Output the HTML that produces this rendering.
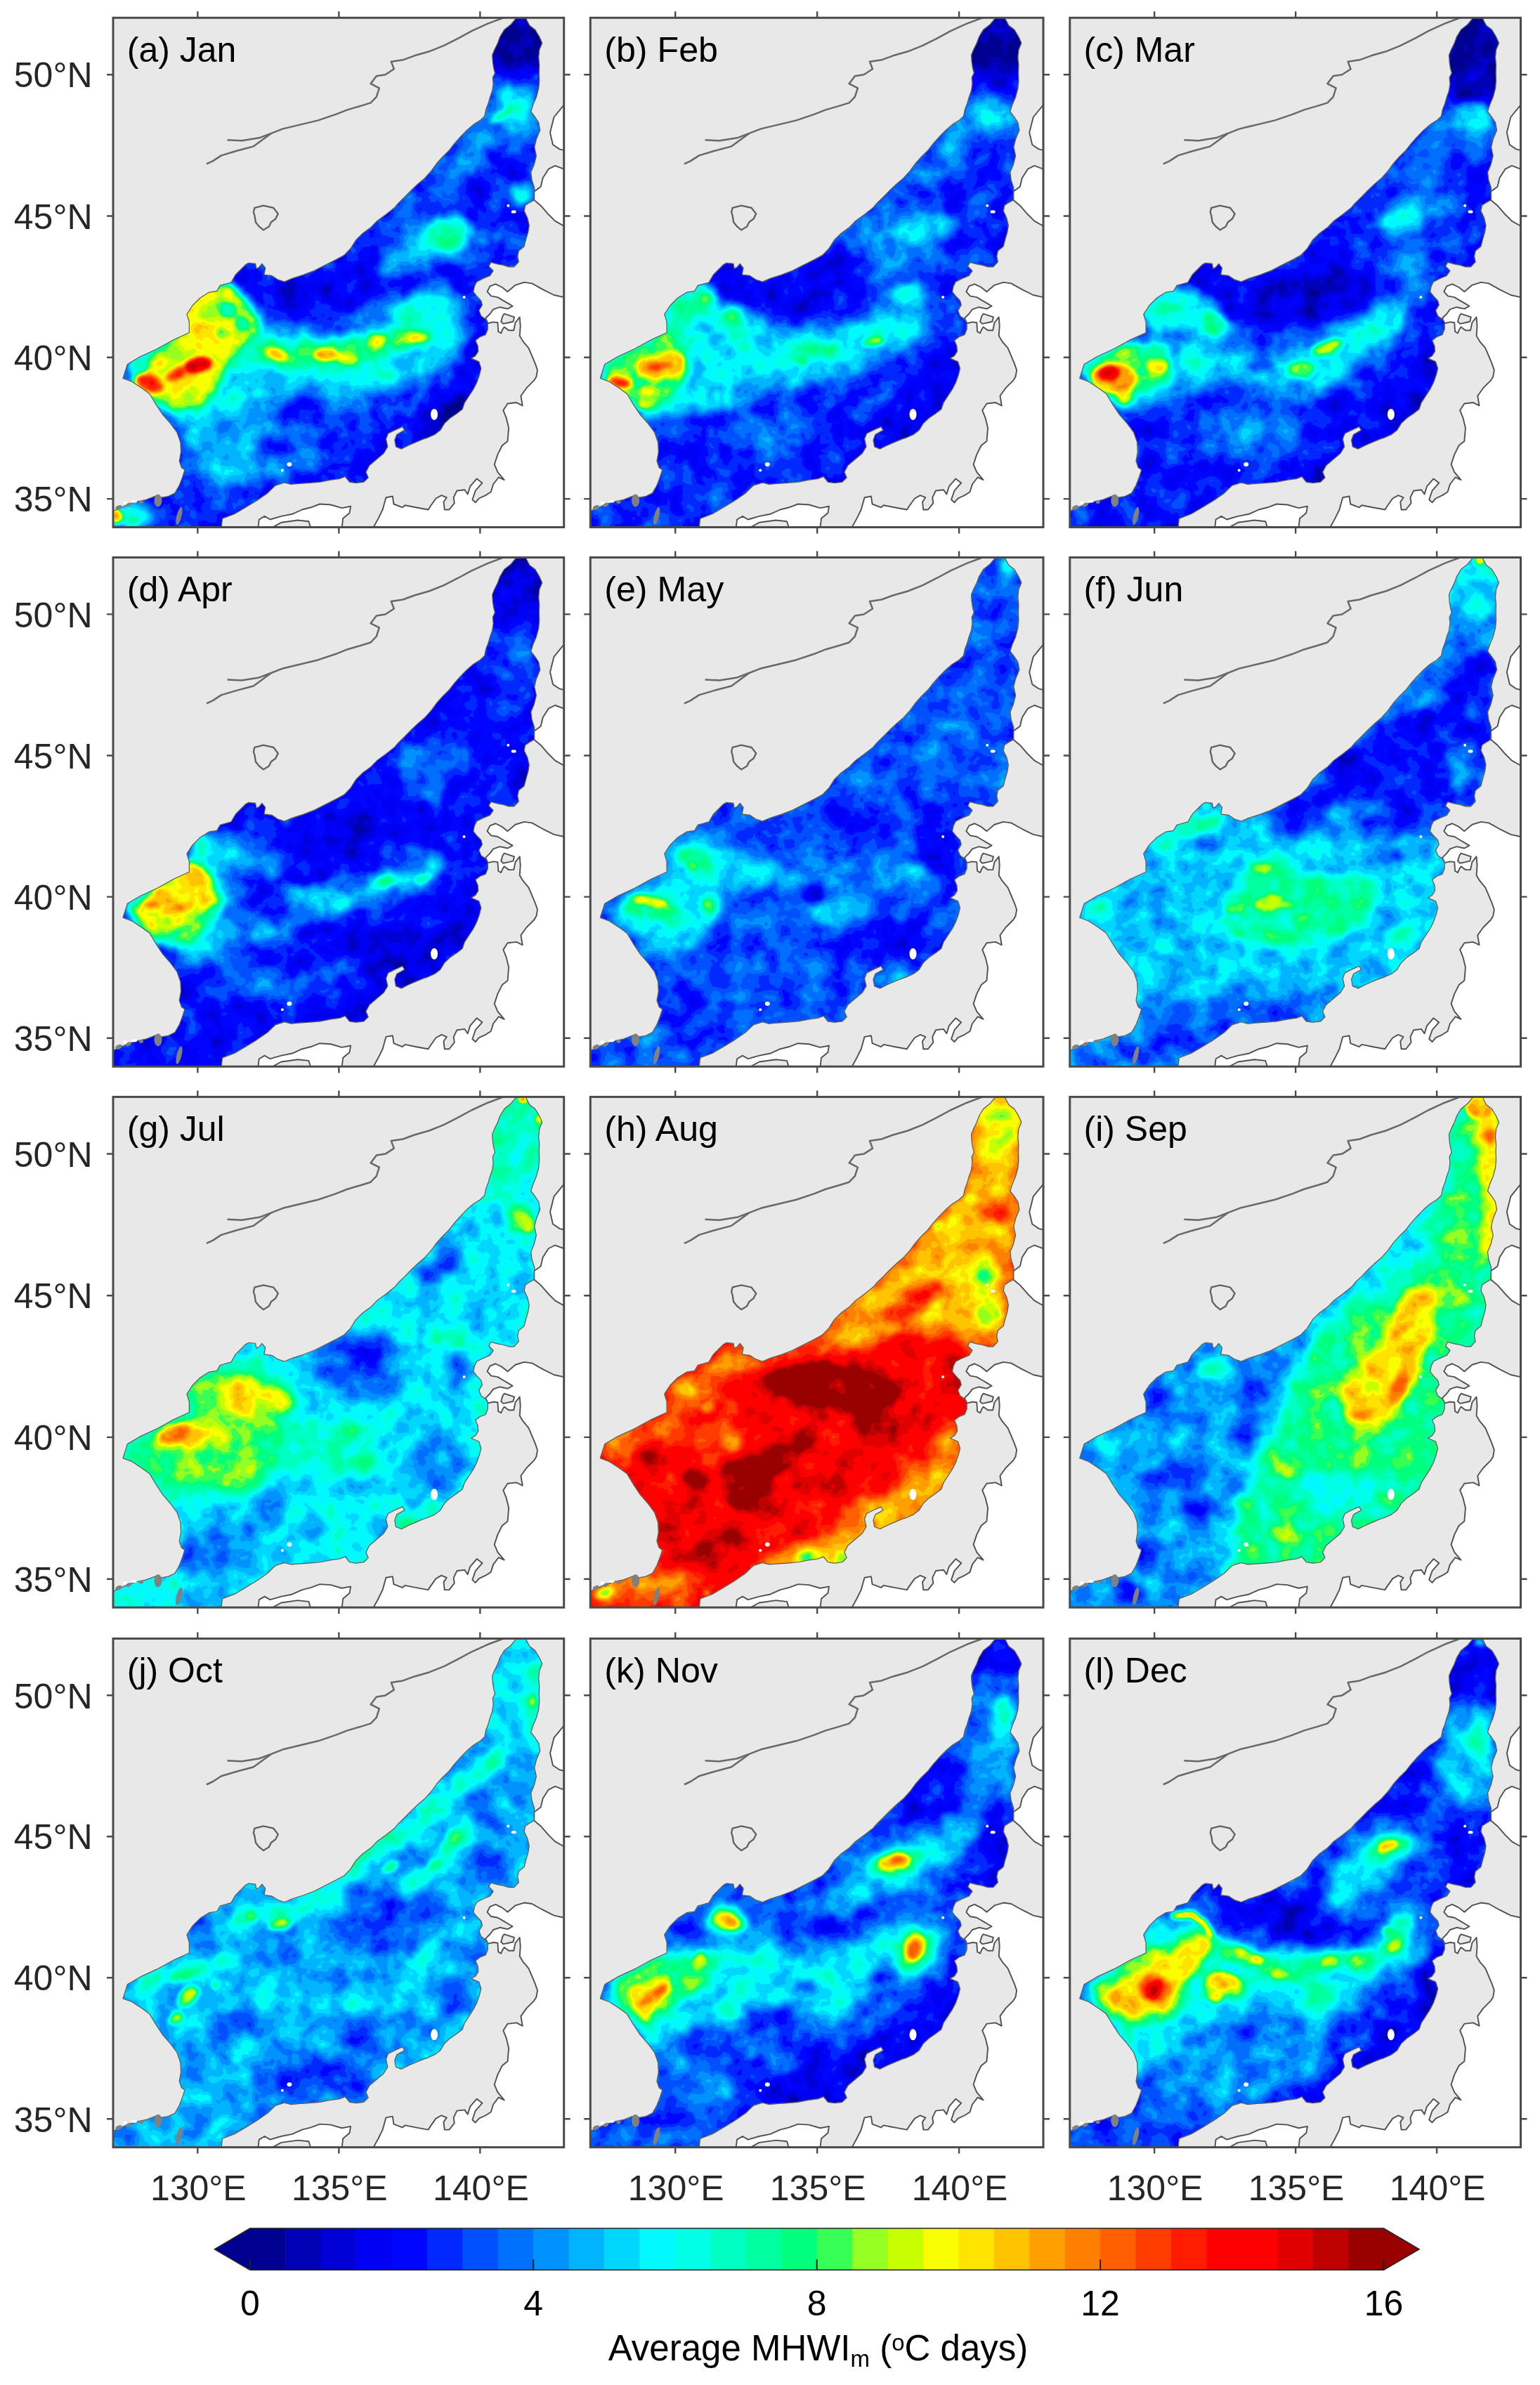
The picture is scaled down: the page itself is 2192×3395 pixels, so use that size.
<!DOCTYPE html><html><head><meta charset="utf-8"><title>Average MHWI</title><style>html,body{margin:0;padding:0;background:#fff}svg{display:block}text{font-family:"Liberation Sans",sans-serif;fill:#262626}</style></head><body>
<svg width="2192" height="3395" viewBox="0 0 2192 3395">
<defs>
<clipPath id="sea"><path d="M576.0,-2.0 566.6,9.4 557.0,17.0 551.0,27.0 547.7,36.0 543.0,45.6 540.0,53.0 540.6,63.0 542.0,72.0 543.8,78.6 540.6,85.0 541.4,94.0 540.0,103.7 536.7,113.0 534.0,122.6 531.0,130.0 529.0,140.0 522.6,146.0 513.0,152.0 503.7,160.0 494.0,170.0 486.0,179.0 478.6,188.6 469.0,198.0 461.0,207.0 453.0,218.0 444.0,228.0 434.6,236.0 425.0,245.0 415.7,254.6 406.0,264.0 401.0,270.0 388.6,279.9 376.0,289.0 366.6,298.7 355.6,306.6 346.0,316.0 338.0,328.6 328.9,338.0 317.9,344.0 302.0,352.0 286.4,360.0 270.7,366.0 255.0,371.0 244.0,375.7 234.6,372.6 226.0,367.0 215.0,365.6 216.8,356.0 212.0,350.0 208.0,355.0 204.0,357.0 202.7,350.0 193.0,349.0 188.6,351.4 174.4,365.6 168.0,376.6 157.0,379.7 152.4,381.0 147.7,389.0 136.7,390.7 124.0,398.6 113.0,409.6 105.0,422.0 108.4,433.0 108.4,448.0 86.4,458.0 62.9,471.0 39.0,482.0 20.4,493.0 14.0,513.0 26.7,517.7 40.9,527.0 51.9,535.0 61.3,550.7 70.7,564.9 81.7,577.4 91.0,590.0 95.9,604.0 96.6,618.0 94.3,630.8 97.4,640.0 102.0,643.4 99.0,652.9 94.3,665.4 88.0,676.4 78.6,681.0 69.0,682.7 62.9,679.6 47.0,685.8 31.4,689.0 15.7,695.0 -2.0,703.0 -2.0,727.0 154.0,727.0 155.6,712.6 172.9,706.0 188.6,696.8 204.0,687.4 220.0,676.4 227.9,668.6 231.4,665.4 244.0,661.5 253.4,663.9 262.9,663.0 278.6,662.0 294.3,660.7 310.0,657.6 322.6,656.0 330.4,652.9 336.7,660.7 346.0,662.0 357.0,660.7 363.4,654.4 360.0,646.6 365.0,637.0 374.4,629.0 385.4,619.8 391.0,610.4 388.6,599.4 391.7,591.6 401.0,586.9 412.0,582.0 415.0,586.9 404.0,593.0 401.0,601.0 402.7,610.4 410.6,613.6 420.0,608.8 431.0,604.0 442.0,599.4 447.0,597.9 458.0,593.0 466.0,586.9 472.0,577.0 480.0,569.6 489.6,563.0 497.4,557.0 500.6,547.6 506.9,538.0 513.0,528.7 517.9,519.0 521.8,508.0 524.0,498.9 521.0,489.4 510.0,484.7 516.0,481.0 520.0,474.7 519.4,467.0 516.0,459.0 522.6,454.0 530.4,451.0 533.6,443.0 533.6,434.0 530.4,429.0 524.0,424.4 521.0,416.6 525.7,408.7 524.0,402.4 517.8,396.0 513.0,390.0 514.7,382.0 517.8,375.7 527.0,371.0 536.7,367.0 541.4,360.0 535.0,353.7 538.0,348.0 547.7,350.6 555.6,352.0 563.4,354.5 571.0,354.5 577.6,347.4 576.0,339.6 577.6,331.7 585.4,325.4 587.8,316.0 591.0,305.0 592.5,295.6 590.0,284.6 585.4,275.0 587.0,267.0 593.0,263.0 599.6,259.4 599.6,251.4 600.0,242.0 596.4,231.0 595.0,220.0 599.6,209.0 602.7,196.4 600.0,184.0 602.7,173.0 608.0,160.0 606.0,149.0 601.0,141.4 595.0,133.6 598.0,124.0 602.7,113.0 606.0,100.6 607.0,89.6 606.6,78.6 607.0,67.6 606.0,56.6 607.0,45.6 611.0,36.0 607.0,27.0 601.0,17.0 593.0,11.0 588.6,2.4 588.0,-2.0Z"/></clipPath>
<clipPath id="fr"><rect x="0" y="0" width="642" height="725"/></clipPath>
<filter id="bA" filterUnits="userSpaceOnUse" x="-60" y="-60" width="762" height="845" color-interpolation-filters="sRGB"><feGaussianBlur stdDeviation="13"/></filter>
<filter id="bB" filterUnits="userSpaceOnUse" x="-60" y="-60" width="762" height="845" color-interpolation-filters="sRGB"><feGaussianBlur stdDeviation="7"/></filter>
<filter id="bC" filterUnits="userSpaceOnUse" x="-60" y="-60" width="762" height="845" color-interpolation-filters="sRGB"><feGaussianBlur stdDeviation="3.5"/></filter>
<filter id="j0" filterUnits="userSpaceOnUse" x="-60" y="-60" width="762" height="845" color-interpolation-filters="sRGB"><feTurbulence type="fractalNoise" baseFrequency="0.03" numOctaves="3" seed="3" result="n"/><feColorMatrix in="n" type="matrix" values="1 0 0 0 0 1 0 0 0 0 1 0 0 0 0 0 0 0 0 1" result="n1"/><feComposite in="SourceGraphic" in2="n1" operator="arithmetic" k1="0" k2="1" k3="0.22" k4="-0.11" result="f"/><feGaussianBlur in="f" stdDeviation="0.7"/><feComponentTransfer><feFuncR type="discrete" tableValues="0.000 0.000 0.000 0.000 0.000 0.000 0.000 0.000 0.000 0.000 0.000 0.000 0.000 0.000 0.000 0.000 0.000 0.216 0.588 0.784 0.980 1.000 1.000 1.000 1.000 1.000 1.000 1.000 1.000 1.000 0.882 0.745 0.600 0.600"/><feFuncG type="discrete" tableValues="0.000 0.000 0.000 0.000 0.000 0.020 0.157 0.314 0.439 0.573 0.706 0.843 0.980 1.000 1.000 1.000 1.000 1.000 1.000 1.000 1.000 0.894 0.765 0.627 0.502 0.373 0.235 0.110 0.000 0.000 0.000 0.000 0.000 0.000"/><feFuncB type="discrete" tableValues="0.569 0.569 0.706 0.843 0.961 1.000 1.000 1.000 1.000 1.000 1.000 1.000 1.000 0.902 0.765 0.627 0.490 0.333 0.137 0.000 0.000 0.000 0.000 0.000 0.000 0.000 0.000 0.000 0.000 0.000 0.000 0.000 0.000 0.000"/></feComponentTransfer></filter>
<filter id="j1" filterUnits="userSpaceOnUse" x="-60" y="-60" width="762" height="845" color-interpolation-filters="sRGB"><feTurbulence type="fractalNoise" baseFrequency="0.03" numOctaves="3" seed="10" result="n"/><feColorMatrix in="n" type="matrix" values="1 0 0 0 0 1 0 0 0 0 1 0 0 0 0 0 0 0 0 1" result="n1"/><feComposite in="SourceGraphic" in2="n1" operator="arithmetic" k1="0" k2="1" k3="0.22" k4="-0.11" result="f"/><feGaussianBlur in="f" stdDeviation="0.7"/><feComponentTransfer><feFuncR type="discrete" tableValues="0.000 0.000 0.000 0.000 0.000 0.000 0.000 0.000 0.000 0.000 0.000 0.000 0.000 0.000 0.000 0.000 0.000 0.216 0.588 0.784 0.980 1.000 1.000 1.000 1.000 1.000 1.000 1.000 1.000 1.000 0.882 0.745 0.600 0.600"/><feFuncG type="discrete" tableValues="0.000 0.000 0.000 0.000 0.000 0.020 0.157 0.314 0.439 0.573 0.706 0.843 0.980 1.000 1.000 1.000 1.000 1.000 1.000 1.000 1.000 0.894 0.765 0.627 0.502 0.373 0.235 0.110 0.000 0.000 0.000 0.000 0.000 0.000"/><feFuncB type="discrete" tableValues="0.569 0.569 0.706 0.843 0.961 1.000 1.000 1.000 1.000 1.000 1.000 1.000 1.000 0.902 0.765 0.627 0.490 0.333 0.137 0.000 0.000 0.000 0.000 0.000 0.000 0.000 0.000 0.000 0.000 0.000 0.000 0.000 0.000 0.000"/></feComponentTransfer></filter>
<filter id="j2" filterUnits="userSpaceOnUse" x="-60" y="-60" width="762" height="845" color-interpolation-filters="sRGB"><feTurbulence type="fractalNoise" baseFrequency="0.03" numOctaves="3" seed="17" result="n"/><feColorMatrix in="n" type="matrix" values="1 0 0 0 0 1 0 0 0 0 1 0 0 0 0 0 0 0 0 1" result="n1"/><feComposite in="SourceGraphic" in2="n1" operator="arithmetic" k1="0" k2="1" k3="0.22" k4="-0.11" result="f"/><feGaussianBlur in="f" stdDeviation="0.7"/><feComponentTransfer><feFuncR type="discrete" tableValues="0.000 0.000 0.000 0.000 0.000 0.000 0.000 0.000 0.000 0.000 0.000 0.000 0.000 0.000 0.000 0.000 0.000 0.216 0.588 0.784 0.980 1.000 1.000 1.000 1.000 1.000 1.000 1.000 1.000 1.000 0.882 0.745 0.600 0.600"/><feFuncG type="discrete" tableValues="0.000 0.000 0.000 0.000 0.000 0.020 0.157 0.314 0.439 0.573 0.706 0.843 0.980 1.000 1.000 1.000 1.000 1.000 1.000 1.000 1.000 0.894 0.765 0.627 0.502 0.373 0.235 0.110 0.000 0.000 0.000 0.000 0.000 0.000"/><feFuncB type="discrete" tableValues="0.569 0.569 0.706 0.843 0.961 1.000 1.000 1.000 1.000 1.000 1.000 1.000 1.000 0.902 0.765 0.627 0.490 0.333 0.137 0.000 0.000 0.000 0.000 0.000 0.000 0.000 0.000 0.000 0.000 0.000 0.000 0.000 0.000 0.000"/></feComponentTransfer></filter>
<filter id="j3" filterUnits="userSpaceOnUse" x="-60" y="-60" width="762" height="845" color-interpolation-filters="sRGB"><feTurbulence type="fractalNoise" baseFrequency="0.03" numOctaves="3" seed="24" result="n"/><feColorMatrix in="n" type="matrix" values="1 0 0 0 0 1 0 0 0 0 1 0 0 0 0 0 0 0 0 1" result="n1"/><feComposite in="SourceGraphic" in2="n1" operator="arithmetic" k1="0" k2="1" k3="0.22" k4="-0.11" result="f"/><feGaussianBlur in="f" stdDeviation="0.7"/><feComponentTransfer><feFuncR type="discrete" tableValues="0.000 0.000 0.000 0.000 0.000 0.000 0.000 0.000 0.000 0.000 0.000 0.000 0.000 0.000 0.000 0.000 0.000 0.216 0.588 0.784 0.980 1.000 1.000 1.000 1.000 1.000 1.000 1.000 1.000 1.000 0.882 0.745 0.600 0.600"/><feFuncG type="discrete" tableValues="0.000 0.000 0.000 0.000 0.000 0.020 0.157 0.314 0.439 0.573 0.706 0.843 0.980 1.000 1.000 1.000 1.000 1.000 1.000 1.000 1.000 0.894 0.765 0.627 0.502 0.373 0.235 0.110 0.000 0.000 0.000 0.000 0.000 0.000"/><feFuncB type="discrete" tableValues="0.569 0.569 0.706 0.843 0.961 1.000 1.000 1.000 1.000 1.000 1.000 1.000 1.000 0.902 0.765 0.627 0.490 0.333 0.137 0.000 0.000 0.000 0.000 0.000 0.000 0.000 0.000 0.000 0.000 0.000 0.000 0.000 0.000 0.000"/></feComponentTransfer></filter>
<filter id="j4" filterUnits="userSpaceOnUse" x="-60" y="-60" width="762" height="845" color-interpolation-filters="sRGB"><feTurbulence type="fractalNoise" baseFrequency="0.03" numOctaves="3" seed="31" result="n"/><feColorMatrix in="n" type="matrix" values="1 0 0 0 0 1 0 0 0 0 1 0 0 0 0 0 0 0 0 1" result="n1"/><feComposite in="SourceGraphic" in2="n1" operator="arithmetic" k1="0" k2="1" k3="0.22" k4="-0.11" result="f"/><feGaussianBlur in="f" stdDeviation="0.7"/><feComponentTransfer><feFuncR type="discrete" tableValues="0.000 0.000 0.000 0.000 0.000 0.000 0.000 0.000 0.000 0.000 0.000 0.000 0.000 0.000 0.000 0.000 0.000 0.216 0.588 0.784 0.980 1.000 1.000 1.000 1.000 1.000 1.000 1.000 1.000 1.000 0.882 0.745 0.600 0.600"/><feFuncG type="discrete" tableValues="0.000 0.000 0.000 0.000 0.000 0.020 0.157 0.314 0.439 0.573 0.706 0.843 0.980 1.000 1.000 1.000 1.000 1.000 1.000 1.000 1.000 0.894 0.765 0.627 0.502 0.373 0.235 0.110 0.000 0.000 0.000 0.000 0.000 0.000"/><feFuncB type="discrete" tableValues="0.569 0.569 0.706 0.843 0.961 1.000 1.000 1.000 1.000 1.000 1.000 1.000 1.000 0.902 0.765 0.627 0.490 0.333 0.137 0.000 0.000 0.000 0.000 0.000 0.000 0.000 0.000 0.000 0.000 0.000 0.000 0.000 0.000 0.000"/></feComponentTransfer></filter>
<filter id="j5" filterUnits="userSpaceOnUse" x="-60" y="-60" width="762" height="845" color-interpolation-filters="sRGB"><feTurbulence type="fractalNoise" baseFrequency="0.03" numOctaves="3" seed="38" result="n"/><feColorMatrix in="n" type="matrix" values="1 0 0 0 0 1 0 0 0 0 1 0 0 0 0 0 0 0 0 1" result="n1"/><feComposite in="SourceGraphic" in2="n1" operator="arithmetic" k1="0" k2="1" k3="0.22" k4="-0.11" result="f"/><feGaussianBlur in="f" stdDeviation="0.7"/><feComponentTransfer><feFuncR type="discrete" tableValues="0.000 0.000 0.000 0.000 0.000 0.000 0.000 0.000 0.000 0.000 0.000 0.000 0.000 0.000 0.000 0.000 0.000 0.216 0.588 0.784 0.980 1.000 1.000 1.000 1.000 1.000 1.000 1.000 1.000 1.000 0.882 0.745 0.600 0.600"/><feFuncG type="discrete" tableValues="0.000 0.000 0.000 0.000 0.000 0.020 0.157 0.314 0.439 0.573 0.706 0.843 0.980 1.000 1.000 1.000 1.000 1.000 1.000 1.000 1.000 0.894 0.765 0.627 0.502 0.373 0.235 0.110 0.000 0.000 0.000 0.000 0.000 0.000"/><feFuncB type="discrete" tableValues="0.569 0.569 0.706 0.843 0.961 1.000 1.000 1.000 1.000 1.000 1.000 1.000 1.000 0.902 0.765 0.627 0.490 0.333 0.137 0.000 0.000 0.000 0.000 0.000 0.000 0.000 0.000 0.000 0.000 0.000 0.000 0.000 0.000 0.000"/></feComponentTransfer></filter>
<filter id="j6" filterUnits="userSpaceOnUse" x="-60" y="-60" width="762" height="845" color-interpolation-filters="sRGB"><feTurbulence type="fractalNoise" baseFrequency="0.03" numOctaves="3" seed="45" result="n"/><feColorMatrix in="n" type="matrix" values="1 0 0 0 0 1 0 0 0 0 1 0 0 0 0 0 0 0 0 1" result="n1"/><feComposite in="SourceGraphic" in2="n1" operator="arithmetic" k1="0" k2="1" k3="0.22" k4="-0.11" result="f"/><feGaussianBlur in="f" stdDeviation="0.7"/><feComponentTransfer><feFuncR type="discrete" tableValues="0.000 0.000 0.000 0.000 0.000 0.000 0.000 0.000 0.000 0.000 0.000 0.000 0.000 0.000 0.000 0.000 0.000 0.216 0.588 0.784 0.980 1.000 1.000 1.000 1.000 1.000 1.000 1.000 1.000 1.000 0.882 0.745 0.600 0.600"/><feFuncG type="discrete" tableValues="0.000 0.000 0.000 0.000 0.000 0.020 0.157 0.314 0.439 0.573 0.706 0.843 0.980 1.000 1.000 1.000 1.000 1.000 1.000 1.000 1.000 0.894 0.765 0.627 0.502 0.373 0.235 0.110 0.000 0.000 0.000 0.000 0.000 0.000"/><feFuncB type="discrete" tableValues="0.569 0.569 0.706 0.843 0.961 1.000 1.000 1.000 1.000 1.000 1.000 1.000 1.000 0.902 0.765 0.627 0.490 0.333 0.137 0.000 0.000 0.000 0.000 0.000 0.000 0.000 0.000 0.000 0.000 0.000 0.000 0.000 0.000 0.000"/></feComponentTransfer></filter>
<filter id="j7" filterUnits="userSpaceOnUse" x="-60" y="-60" width="762" height="845" color-interpolation-filters="sRGB"><feTurbulence type="fractalNoise" baseFrequency="0.03" numOctaves="3" seed="52" result="n"/><feColorMatrix in="n" type="matrix" values="1 0 0 0 0 1 0 0 0 0 1 0 0 0 0 0 0 0 0 1" result="n1"/><feComposite in="SourceGraphic" in2="n1" operator="arithmetic" k1="0" k2="1" k3="0.22" k4="-0.11" result="f"/><feGaussianBlur in="f" stdDeviation="0.7"/><feComponentTransfer><feFuncR type="discrete" tableValues="0.000 0.000 0.000 0.000 0.000 0.000 0.000 0.000 0.000 0.000 0.000 0.000 0.000 0.000 0.000 0.000 0.000 0.216 0.588 0.784 0.980 1.000 1.000 1.000 1.000 1.000 1.000 1.000 1.000 1.000 0.882 0.745 0.600 0.600"/><feFuncG type="discrete" tableValues="0.000 0.000 0.000 0.000 0.000 0.020 0.157 0.314 0.439 0.573 0.706 0.843 0.980 1.000 1.000 1.000 1.000 1.000 1.000 1.000 1.000 0.894 0.765 0.627 0.502 0.373 0.235 0.110 0.000 0.000 0.000 0.000 0.000 0.000"/><feFuncB type="discrete" tableValues="0.569 0.569 0.706 0.843 0.961 1.000 1.000 1.000 1.000 1.000 1.000 1.000 1.000 0.902 0.765 0.627 0.490 0.333 0.137 0.000 0.000 0.000 0.000 0.000 0.000 0.000 0.000 0.000 0.000 0.000 0.000 0.000 0.000 0.000"/></feComponentTransfer></filter>
<filter id="j8" filterUnits="userSpaceOnUse" x="-60" y="-60" width="762" height="845" color-interpolation-filters="sRGB"><feTurbulence type="fractalNoise" baseFrequency="0.03" numOctaves="3" seed="59" result="n"/><feColorMatrix in="n" type="matrix" values="1 0 0 0 0 1 0 0 0 0 1 0 0 0 0 0 0 0 0 1" result="n1"/><feComposite in="SourceGraphic" in2="n1" operator="arithmetic" k1="0" k2="1" k3="0.22" k4="-0.11" result="f"/><feGaussianBlur in="f" stdDeviation="0.7"/><feComponentTransfer><feFuncR type="discrete" tableValues="0.000 0.000 0.000 0.000 0.000 0.000 0.000 0.000 0.000 0.000 0.000 0.000 0.000 0.000 0.000 0.000 0.000 0.216 0.588 0.784 0.980 1.000 1.000 1.000 1.000 1.000 1.000 1.000 1.000 1.000 0.882 0.745 0.600 0.600"/><feFuncG type="discrete" tableValues="0.000 0.000 0.000 0.000 0.000 0.020 0.157 0.314 0.439 0.573 0.706 0.843 0.980 1.000 1.000 1.000 1.000 1.000 1.000 1.000 1.000 0.894 0.765 0.627 0.502 0.373 0.235 0.110 0.000 0.000 0.000 0.000 0.000 0.000"/><feFuncB type="discrete" tableValues="0.569 0.569 0.706 0.843 0.961 1.000 1.000 1.000 1.000 1.000 1.000 1.000 1.000 0.902 0.765 0.627 0.490 0.333 0.137 0.000 0.000 0.000 0.000 0.000 0.000 0.000 0.000 0.000 0.000 0.000 0.000 0.000 0.000 0.000"/></feComponentTransfer></filter>
<filter id="j9" filterUnits="userSpaceOnUse" x="-60" y="-60" width="762" height="845" color-interpolation-filters="sRGB"><feTurbulence type="fractalNoise" baseFrequency="0.03" numOctaves="3" seed="66" result="n"/><feColorMatrix in="n" type="matrix" values="1 0 0 0 0 1 0 0 0 0 1 0 0 0 0 0 0 0 0 1" result="n1"/><feComposite in="SourceGraphic" in2="n1" operator="arithmetic" k1="0" k2="1" k3="0.22" k4="-0.11" result="f"/><feGaussianBlur in="f" stdDeviation="0.7"/><feComponentTransfer><feFuncR type="discrete" tableValues="0.000 0.000 0.000 0.000 0.000 0.000 0.000 0.000 0.000 0.000 0.000 0.000 0.000 0.000 0.000 0.000 0.000 0.216 0.588 0.784 0.980 1.000 1.000 1.000 1.000 1.000 1.000 1.000 1.000 1.000 0.882 0.745 0.600 0.600"/><feFuncG type="discrete" tableValues="0.000 0.000 0.000 0.000 0.000 0.020 0.157 0.314 0.439 0.573 0.706 0.843 0.980 1.000 1.000 1.000 1.000 1.000 1.000 1.000 1.000 0.894 0.765 0.627 0.502 0.373 0.235 0.110 0.000 0.000 0.000 0.000 0.000 0.000"/><feFuncB type="discrete" tableValues="0.569 0.569 0.706 0.843 0.961 1.000 1.000 1.000 1.000 1.000 1.000 1.000 1.000 0.902 0.765 0.627 0.490 0.333 0.137 0.000 0.000 0.000 0.000 0.000 0.000 0.000 0.000 0.000 0.000 0.000 0.000 0.000 0.000 0.000"/></feComponentTransfer></filter>
<filter id="j10" filterUnits="userSpaceOnUse" x="-60" y="-60" width="762" height="845" color-interpolation-filters="sRGB"><feTurbulence type="fractalNoise" baseFrequency="0.03" numOctaves="3" seed="73" result="n"/><feColorMatrix in="n" type="matrix" values="1 0 0 0 0 1 0 0 0 0 1 0 0 0 0 0 0 0 0 1" result="n1"/><feComposite in="SourceGraphic" in2="n1" operator="arithmetic" k1="0" k2="1" k3="0.22" k4="-0.11" result="f"/><feGaussianBlur in="f" stdDeviation="0.7"/><feComponentTransfer><feFuncR type="discrete" tableValues="0.000 0.000 0.000 0.000 0.000 0.000 0.000 0.000 0.000 0.000 0.000 0.000 0.000 0.000 0.000 0.000 0.000 0.216 0.588 0.784 0.980 1.000 1.000 1.000 1.000 1.000 1.000 1.000 1.000 1.000 0.882 0.745 0.600 0.600"/><feFuncG type="discrete" tableValues="0.000 0.000 0.000 0.000 0.000 0.020 0.157 0.314 0.439 0.573 0.706 0.843 0.980 1.000 1.000 1.000 1.000 1.000 1.000 1.000 1.000 0.894 0.765 0.627 0.502 0.373 0.235 0.110 0.000 0.000 0.000 0.000 0.000 0.000"/><feFuncB type="discrete" tableValues="0.569 0.569 0.706 0.843 0.961 1.000 1.000 1.000 1.000 1.000 1.000 1.000 1.000 0.902 0.765 0.627 0.490 0.333 0.137 0.000 0.000 0.000 0.000 0.000 0.000 0.000 0.000 0.000 0.000 0.000 0.000 0.000 0.000 0.000"/></feComponentTransfer></filter>
<filter id="j11" filterUnits="userSpaceOnUse" x="-60" y="-60" width="762" height="845" color-interpolation-filters="sRGB"><feTurbulence type="fractalNoise" baseFrequency="0.03" numOctaves="3" seed="80" result="n"/><feColorMatrix in="n" type="matrix" values="1 0 0 0 0 1 0 0 0 0 1 0 0 0 0 0 0 0 0 1" result="n1"/><feComposite in="SourceGraphic" in2="n1" operator="arithmetic" k1="0" k2="1" k3="0.22" k4="-0.11" result="f"/><feGaussianBlur in="f" stdDeviation="0.7"/><feComponentTransfer><feFuncR type="discrete" tableValues="0.000 0.000 0.000 0.000 0.000 0.000 0.000 0.000 0.000 0.000 0.000 0.000 0.000 0.000 0.000 0.000 0.000 0.216 0.588 0.784 0.980 1.000 1.000 1.000 1.000 1.000 1.000 1.000 1.000 1.000 0.882 0.745 0.600 0.600"/><feFuncG type="discrete" tableValues="0.000 0.000 0.000 0.000 0.000 0.020 0.157 0.314 0.439 0.573 0.706 0.843 0.980 1.000 1.000 1.000 1.000 1.000 1.000 1.000 1.000 0.894 0.765 0.627 0.502 0.373 0.235 0.110 0.000 0.000 0.000 0.000 0.000 0.000"/><feFuncB type="discrete" tableValues="0.569 0.569 0.706 0.843 0.961 1.000 1.000 1.000 1.000 1.000 1.000 1.000 1.000 0.902 0.765 0.627 0.490 0.333 0.137 0.000 0.000 0.000 0.000 0.000 0.000 0.000 0.000 0.000 0.000 0.000 0.000 0.000 0.000 0.000"/></feComponentTransfer></filter>
<g id="bg">
<path d="M644.0,124.0 642.0,124.0 627.8,141.4 622.3,163.4 626.3,180.7 635.7,187.0 642.0,188.6 644.0,188.6Z" fill="#fff" stroke="#505050" stroke-width="1.9" stroke-linejoin="round"/>
<path d="M644.0,215.3 642.0,215.3 629.4,210.6 620.0,215.3 612.0,227.8 609.0,240.4 602.7,245.0 599.6,247.0 599.6,259.4 609.0,267.3 620.0,279.9 629.4,289.3 642.0,296.4 644.0,296.4Z" fill="#fff" stroke="#505050" stroke-width="1.9" stroke-linejoin="round"/>
<path d="M644.0,397.7 642.0,397.7 627.8,394.6 612.0,386.7 596.4,378.0 585.4,376.5 572.8,380.4 561.8,389.8 554.0,383.6 544.6,378.9 536.7,382.0 532.8,389.8 538.3,396.0 547.7,397.7 555.6,402.4 563.4,407.0 568.9,410.3 561.8,414.2 550.8,411.8 541.4,415.0 536.7,421.3 530.4,427.6 533.6,434.5 535.0,434.6 541.4,433.0 547.7,433.8 548.5,446.4 552.4,448.8 554.8,443.3 557.0,440.0 563.4,444.8 570.5,444.8 572.8,433.8 579.0,426.0 580.0,438.6 579.0,452.7 583.8,460.6 591.7,470.0 596.4,481.0 601.0,492.0 604.3,501.4 602.7,510.8 599.6,516.0 588.6,527.0 580.7,538.0 583.0,552.0 574.4,547.6 561.8,549.0 555.6,558.6 560.0,569.6 563.4,583.7 561.8,602.6 554.0,608.8 547.7,621.4 543.0,635.6 547.7,646.6 557.0,657.6 549.0,654.0 541.4,663.8 538.0,674.8 530.4,679.6 521.0,684.0 516.0,689.8 511.6,685.8 516.0,673.0 525.7,662.0 517.9,656.0 508.4,667.0 505.0,678.0 500.6,671.7 489.6,673.0 484.9,682.7 486.0,690.6 478.6,700.0 472.0,700.0 470.7,689.0 475.0,682.7 467.6,679.6 459.7,684.0 451.9,695.0 448.7,700.0 431.0,696.8 415.7,693.7 412.0,696.8 399.6,692.0 398.0,681.0 388.6,682.7 383.8,700.0 377.6,712.6 369.7,727.0 644.0,727.0Z" fill="#fff" stroke="#505050" stroke-width="1.9" stroke-linejoin="round"/>
<path d="M206.3,727.0 207.9,714.0 215.7,709.4 223.6,714.0 239.3,709.4 255.0,706.3 269.0,700.0 281.7,696.8 294.3,692.0 310.0,693.0 325.7,697.6 338.3,695.3 336.7,704.7 327.3,712.6 325.7,727.0Z" fill="#fff" stroke="#505050" stroke-width="1.9" stroke-linejoin="round"/>
<path d="M557.0,421.3 571.3,426.0 569.7,432.3 563.4,433.8 555.6,435.4 552.4,432.3 554.8,424.4Z" fill="#e8e8e8" stroke="#505050" stroke-width="1.9" stroke-linejoin="round"/>
<path d="M223.6,727.0 239.3,718.3 262.9,715.0 278.6,716.7 281.7,727.0Z" fill="#e8e8e8" stroke="#505050" stroke-width="1.9" stroke-linejoin="round"/>
<path d="M558.6,-1.0 533.6,8.3 510.6,18.8 491.9,29.0 471.0,39.6 450.0,48.0 429.0,54.0 412.7,60.0 396.0,62.5 400.0,73.0 387.7,81.0 375.0,83.0 366.8,93.8 379.0,100.0 375.0,112.5 366.8,121.0 354.0,125.0 333.5,131.0 316.8,137.6 291.8,146.0 266.8,152.0 241.8,158.0 225.0,164.6 208.0,171.0 183.0,175.0 162.6,174.0" fill="none" stroke="#686868" stroke-width="2.5" stroke-linejoin="round"/>
<path d="M225.0,164.6 200.0,183.0 175.0,189.7 154.0,196.0 141.7,204.0 133.0,208.0" fill="none" stroke="#686868" stroke-width="2.5" stroke-linejoin="round"/>
<path d="M201.5,270.4 214.0,267.3 228.3,270.4 234.9,279.0 231.4,286.0 225.0,290.9 222.0,297.0 214.0,302.0 207.9,297.0 203.0,290.9 201.5,281.4 200.0,276.7Z" fill="none" stroke="#606060" stroke-width="2.3"/>
</g>
<g id="fg">
<path d="M576.0,-2.0 566.6,9.4 557.0,17.0 551.0,27.0 547.7,36.0 543.0,45.6 540.0,53.0 540.6,63.0 542.0,72.0 543.8,78.6 540.6,85.0 541.4,94.0 540.0,103.7 536.7,113.0 534.0,122.6 531.0,130.0 529.0,140.0 522.6,146.0 513.0,152.0 503.7,160.0 494.0,170.0 486.0,179.0 478.6,188.6 469.0,198.0 461.0,207.0 453.0,218.0 444.0,228.0 434.6,236.0 425.0,245.0 415.7,254.6 406.0,264.0 401.0,270.0 388.6,279.9 376.0,289.0 366.6,298.7 355.6,306.6 346.0,316.0 338.0,328.6 328.9,338.0 317.9,344.0 302.0,352.0 286.4,360.0 270.7,366.0 255.0,371.0 244.0,375.7 234.6,372.6 226.0,367.0 215.0,365.6 216.8,356.0 212.0,350.0 208.0,355.0 204.0,357.0 202.7,350.0 193.0,349.0 188.6,351.4 174.4,365.6 168.0,376.6 157.0,379.7 152.4,381.0 147.7,389.0 136.7,390.7 124.0,398.6 113.0,409.6 105.0,422.0 108.4,433.0 108.4,448.0 86.4,458.0 62.9,471.0 39.0,482.0 20.4,493.0 14.0,513.0 26.7,517.7 40.9,527.0 51.9,535.0 61.3,550.7 70.7,564.9 81.7,577.4 91.0,590.0 95.9,604.0 96.6,618.0 94.3,630.8 97.4,640.0 102.0,643.4 99.0,652.9 94.3,665.4 88.0,676.4 78.6,681.0 69.0,682.7 62.9,679.6 47.0,685.8 31.4,689.0 15.7,695.0 -2.0,703.0 -2.0,727.0 154.0,727.0 155.6,712.6 172.9,706.0 188.6,696.8 204.0,687.4 220.0,676.4 227.9,668.6 231.4,665.4 244.0,661.5 253.4,663.9 262.9,663.0 278.6,662.0 294.3,660.7 310.0,657.6 322.6,656.0 330.4,652.9 336.7,660.7 346.0,662.0 357.0,660.7 363.4,654.4 360.0,646.6 365.0,637.0 374.4,629.0 385.4,619.8 391.0,610.4 388.6,599.4 391.7,591.6 401.0,586.9 412.0,582.0 415.0,586.9 404.0,593.0 401.0,601.0 402.7,610.4 410.6,613.6 420.0,608.8 431.0,604.0 442.0,599.4 447.0,597.9 458.0,593.0 466.0,586.9 472.0,577.0 480.0,569.6 489.6,563.0 497.4,557.0 500.6,547.6 506.9,538.0 513.0,528.7 517.9,519.0 521.8,508.0 524.0,498.9 521.0,489.4 510.0,484.7 516.0,481.0 520.0,474.7 519.4,467.0 516.0,459.0 522.6,454.0 530.4,451.0 533.6,443.0 533.6,434.0 530.4,429.0 524.0,424.4 521.0,416.6 525.7,408.7 524.0,402.4 517.8,396.0 513.0,390.0 514.7,382.0 517.8,375.7 527.0,371.0 536.7,367.0 541.4,360.0 535.0,353.7 538.0,348.0 547.7,350.6 555.6,352.0 563.4,354.5 571.0,354.5 577.6,347.4 576.0,339.6 577.6,331.7 585.4,325.4 587.8,316.0 591.0,305.0 592.5,295.6 590.0,284.6 585.4,275.0 587.0,267.0 593.0,263.0 599.6,259.4 599.6,251.4 600.0,242.0 596.4,231.0 595.0,220.0 599.6,209.0 602.7,196.4 600.0,184.0 602.7,173.0 608.0,160.0 606.0,149.0 601.0,141.4 595.0,133.6 598.0,124.0 602.7,113.0 606.0,100.6 607.0,89.6 606.6,78.6 607.0,67.6 606.0,56.6 607.0,45.6 611.0,36.0 607.0,27.0 601.0,17.0 593.0,11.0 588.6,2.4 588.0,-2.0Z" fill="none" stroke="#5a5a50" stroke-width="1.2" stroke-linejoin="round"/>
<ellipse cx="457.3" cy="564.5" rx="5.0" ry="8.0" fill="#fff"/>
<ellipse cx="251.0" cy="635.6" rx="3.5" ry="3.0" fill="#fff"/>
<ellipse cx="241.0" cy="644.0" rx="2.0" ry="2.0" fill="#fff"/>
<ellipse cx="562.6" cy="267.3" rx="2.0" ry="2.0" fill="#fff"/>
<ellipse cx="570.5" cy="276.0" rx="3.5" ry="2.2" fill="#fff"/>
<ellipse cx="499.8" cy="397.7" rx="2.0" ry="2.0" fill="#fff"/>
<ellipse cx="17.0" cy="690.0" rx="3.0" ry="2.0" fill="#fff"/>
<ellipse cx="30.0" cy="688.0" rx="4.0" ry="2.0" fill="#fff"/>
<ellipse cx="94.0" cy="709.0" rx="3.5" ry="13.0" fill="#808080" transform="rotate(14 94.0 709.0)"/>
<ellipse cx="64.0" cy="687.0" rx="5.5" ry="9.0" fill="#808080" transform="rotate(0 64.0 687.0)"/>
<ellipse cx="40.0" cy="689.0" rx="3.0" ry="2.5" fill="#808080" transform="rotate(0 40.0 689.0)"/>
<ellipse cx="8.0" cy="697.0" rx="5.0" ry="3.0" fill="#808080" transform="rotate(-25 8.0 697.0)"/>
<ellipse cx="22.0" cy="693.0" rx="4.0" ry="2.5" fill="#808080" transform="rotate(-25 22.0 693.0)"/>
</g>
</defs>
<g transform="translate(161.0 25.3) scale(0.99953 1.00028)">
<g clip-path="url(#fr)"><rect x="0" y="0" width="642" height="725" fill="#e8e8e8"/><use href="#bg"/>
<g clip-path="url(#sea)"><g filter="url(#j0)"><rect x="-60" y="-60" width="762" height="845" fill="#323232"/>
<g filter="url(#bA)"><ellipse cx="579.5" cy="25.0" rx="58.4" ry="62.5" fill="#0e0e0e"/><path d="M537.8,95.9 608.6,95.9 604.5,175.1 541.9,179.3 479.4,233.5 454.4,216.8 533.6,125.1Z" fill="#4c4c4c"/><path d="M500.3,287.6 458.6,287.6 375.2,329.3 350.2,362.7 387.7,375.2 458.6,346.0 512.8,329.3Z" fill="#5b5b5b"/><path d="M396.0,400.2 479.4,387.7 500.3,416.9 479.4,441.9 396.0,450.2Z" fill="#5f5f5f"/><path d="M166.8,375.2 200.1,354.3 250.1,375.2 316.8,366.9 375.2,316.8 400.2,333.5 375.2,375.2 341.8,416.9 291.8,429.4 233.5,412.7 195.9,396.0Z" fill="#202020"/><path d="M396.0,354.3 521.1,346.0 525.3,387.7 416.9,383.5Z" fill="#292929"/><path d="M25.0,487.7 112.6,408.5 141.7,387.7 175.1,396.0 216.8,441.9 291.8,450.2 375.2,433.6 479.4,433.6 500.3,462.7 458.6,504.4 396.0,529.4 316.8,537.8 250.1,529.4 191.8,554.4 137.6,587.8 95.9,583.6 54.2,541.9 16.7,512.8Z" fill="#5e5e5e"/><path d="M95.9,583.6 191.8,562.8 258.5,583.6 291.8,625.3 233.5,650.3 158.4,667.0 108.4,650.3Z" fill="#4d4d4d"/><path d="M537.8,450.2 516.9,450.2 496.1,491.9 466.9,537.8 416.9,583.6 375.2,608.6 350.2,650.3 291.8,675.3 316.8,708.7 375.2,675.3 421.0,625.3 458.6,608.6 500.3,575.3 537.8,521.1Z" fill="#1f1f1f"/><ellipse cx="550.3" cy="216.8" rx="33.4" ry="29.2" fill="#292929"/><ellipse cx="266.8" cy="687.8" rx="83.4" ry="29.2" fill="#2c2c2c" transform="rotate(-20 266.8 687.8)"/></g>
<g filter="url(#bB)"><ellipse cx="573.2" cy="118.8" rx="25.0" ry="20.8" fill="#626262"/><ellipse cx="583.6" cy="250.1" rx="14.6" ry="14.6" fill="#5f5f5f"/><ellipse cx="475.2" cy="306.4" rx="31.3" ry="22.9" fill="#717171" transform="rotate(-20 475.2 306.4)"/><ellipse cx="441.9" cy="416.9" rx="37.5" ry="18.8" fill="#6e6e6e" transform="rotate(-10 441.9 416.9)"/><path d="M98.0,412.7 129.2,381.4 166.8,377.3 200.1,416.9 210.5,450.2 183.4,469.0 162.6,494.0 150.1,525.3 125.1,552.4 83.4,558.6 50.0,541.9 25.0,526.1 50.0,489.8 70.9,464.8 98.0,448.1 100.1,433.6Z" fill="#989898"/><path d="M200.1,458.6 250.1,462.7 300.2,460.6 354.3,452.3 396.0,444.0 450.2,444.0 458.6,458.6 396.0,475.2 354.3,496.1 291.8,500.3 241.8,496.1 208.4,483.6Z" fill="#7f7f7f"/><ellipse cx="266.8" cy="554.4" rx="25.0" ry="16.7" fill="#2f2f2f"/><ellipse cx="300.2" cy="596.1" rx="29.2" ry="20.8" fill="#2c2c2c"/><ellipse cx="233.5" cy="608.6" rx="25.0" ry="16.7" fill="#353535"/><ellipse cx="471.1" cy="562.8" rx="29.2" ry="20.8" fill="#141414" transform="rotate(-40 471.1 562.8)"/><ellipse cx="25.0" cy="708.7" rx="29.2" ry="16.7" fill="#656565"/></g>
<g filter="url(#bC)"><ellipse cx="556.5" cy="135.5" rx="22.9" ry="5.4" fill="#7d7d7d" transform="rotate(-38 556.5 135.5)"/><ellipse cx="120.9" cy="494.0" rx="20.0" ry="10.8" fill="#ececec" transform="rotate(-15 120.9 494.0)"/><ellipse cx="89.6" cy="506.5" rx="17.5" ry="7.5" fill="#cbcbcb" transform="rotate(-25 89.6 506.5)"/><ellipse cx="52.1" cy="520.3" rx="20.8" ry="11.7" fill="#c8c8c8" transform="rotate(20 52.1 520.3)"/><ellipse cx="164.7" cy="416.9" rx="12.5" ry="10.4" fill="#7a7a7a"/><ellipse cx="155.1" cy="449.4" rx="11.7" ry="8.3" fill="#7a7a7a"/><ellipse cx="185.5" cy="435.6" rx="10.4" ry="10.4" fill="#7d7d7d"/><ellipse cx="35.4" cy="496.1" rx="14.6" ry="10.4" fill="#686868"/><ellipse cx="233.5" cy="478.6" rx="14.6" ry="7.5" fill="#a4a4a4" transform="rotate(15 233.5 478.6)"/><ellipse cx="303.5" cy="479.4" rx="16.7" ry="7.5" fill="#b0b0b0"/><ellipse cx="375.2" cy="458.6" rx="13.3" ry="9.2" fill="#9e9e9e"/><ellipse cx="433.6" cy="455.6" rx="16.7" ry="5.0" fill="#989898" transform="rotate(-8 433.6 455.6)"/><ellipse cx="333.5" cy="485.7" rx="16.7" ry="6.3" fill="#9a9a9a" transform="rotate(10 333.5 485.7)"/><ellipse cx="4.2" cy="708.7" rx="9.2" ry="10.4" fill="#b8b8b8"/></g>
</g></g>
<use href="#fg"/></g>
<rect x="0" y="0" width="642" height="725" fill="none" stroke="#4a4a4a" stroke-width="3"/>
<path d="M120.4,0v-9M120.4,725v9M321.5,0v-9M321.5,725v9M522.6,0v-9M522.6,725v9M0,80.9h-9M642,80.9h9M0,282.1h-9M642,282.1h9M0,483.3h-9M642,483.3h9M0,684.6h-9M642,684.6h9" stroke="#4a4a4a" stroke-width="2.4" fill="none"/>
<text x="19.8" y="62.5" font-size="50" style="fill:#000">(a) Jan</text>
</g>
<text x="131.5" y="124.4" font-size="50" text-anchor="end">50°N</text>
<text x="131.5" y="325.7" font-size="50" text-anchor="end">45°N</text>
<text x="131.5" y="526.9" font-size="50" text-anchor="end">40°N</text>
<text x="131.5" y="728.3" font-size="50" text-anchor="end">35°N</text>
<g transform="translate(840.3 25.3) scale(1.00421 1.00028)">
<g clip-path="url(#fr)"><rect x="0" y="0" width="642" height="725" fill="#e8e8e8"/><use href="#bg"/>
<g clip-path="url(#sea)"><g filter="url(#j1)"><rect x="-60" y="-60" width="762" height="845" fill="#2f2f2f"/>
<g filter="url(#bA)"><ellipse cx="579.5" cy="29.2" rx="58.4" ry="70.9" fill="#0e0e0e"/><path d="M537.8,104.2 608.6,104.2 604.5,175.1 541.9,179.3 458.6,250.1 433.6,241.8 529.4,133.4Z" fill="#474747"/><path d="M354.3,291.8 437.7,266.8 521.1,283.5 500.3,333.5 416.9,375.2 354.3,366.9Z" fill="#444444"/><path d="M166.8,375.2 200.1,354.3 250.1,375.2 316.8,366.9 366.9,325.2 391.9,341.8 366.9,383.5 333.5,416.9 291.8,433.6 233.5,412.7 195.9,396.0Z" fill="#1f1f1f"/><path d="M175.1,416.9 233.5,416.9 271.0,450.2 333.5,441.9 396.0,425.2 437.7,387.7 483.6,391.9 479.4,441.9 437.7,471.1 375.2,500.3 325.2,516.9 258.5,521.1 208.4,541.9 145.9,558.6 95.9,575.3 62.5,541.9 104.2,458.6 112.6,412.7 141.7,391.9Z" fill="#5c5c5c"/><path d="M537.8,450.2 516.9,450.2 496.1,491.9 466.9,537.8 416.9,583.6 375.2,608.6 350.2,650.3 291.8,675.3 316.8,708.7 375.2,675.3 421.0,625.3 458.6,608.6 500.3,575.3 537.8,521.1Z" fill="#1f1f1f"/><ellipse cx="250.1" cy="592.0" rx="62.5" ry="25.0" fill="#414141" transform="rotate(-10 250.1 592.0)"/></g>
<g filter="url(#bB)"><ellipse cx="567.0" cy="133.4" rx="29.2" ry="20.8" fill="#595959"/><ellipse cx="471.1" cy="300.2" rx="45.9" ry="18.8" fill="#5c5c5c" transform="rotate(-15 471.1 300.2)"/><path d="M100.1,410.6 133.4,381.4 173.0,379.4 183.4,404.4 141.7,441.9 125.1,458.6 98.0,462.7Z" fill="#6e6e6e"/><path d="M16.7,487.7 62.5,464.8 104.2,448.1 139.7,479.4 139.7,512.8 112.6,539.9 83.4,560.7 52.1,546.1 20.8,525.3Z" fill="#838383"/><ellipse cx="204.3" cy="433.6" rx="18.8" ry="20.8" fill="#7a7a7a"/><ellipse cx="145.9" cy="454.4" rx="20.8" ry="10.4" fill="#777777" transform="rotate(-15 145.9 454.4)"/><ellipse cx="308.5" cy="475.2" rx="39.6" ry="14.6" fill="#777777" transform="rotate(-5 308.5 475.2)"/><ellipse cx="450.2" cy="396.0" rx="25.0" ry="16.7" fill="#5c5c5c"/><ellipse cx="191.8" cy="537.8" rx="33.4" ry="14.6" fill="#565656"/></g>
<g filter="url(#bC)"><ellipse cx="164.7" cy="400.2" rx="7.5" ry="5.8" fill="#8c8c8c"/><ellipse cx="100.1" cy="496.1" rx="35.4" ry="18.8" fill="#a6a6a6" transform="rotate(-10 100.1 496.1)"/><ellipse cx="98.0" cy="494.8" rx="18.8" ry="6.7" fill="#c8c8c8" transform="rotate(-5 98.0 494.8)"/><ellipse cx="41.7" cy="519.0" rx="17.5" ry="7.5" fill="#c2c2c2" transform="rotate(10 41.7 519.0)"/><ellipse cx="83.4" cy="531.5" rx="12.5" ry="7.5" fill="#a1a1a1"/><ellipse cx="75.0" cy="548.2" rx="9.2" ry="6.3" fill="#9b9b9b"/><ellipse cx="400.2" cy="460.6" rx="16.7" ry="5.8" fill="#898989" transform="rotate(-10 400.2 460.6)"/><ellipse cx="300.2" cy="487.7" rx="8.3" ry="5.8" fill="#8f8f8f"/></g>
</g></g>
<use href="#fg"/></g>
<rect x="0" y="0" width="642" height="725" fill="none" stroke="#4a4a4a" stroke-width="3"/>
<path d="M120.4,0v-9M120.4,725v9M321.5,0v-9M321.5,725v9M522.6,0v-9M522.6,725v9M0,80.9h-9M642,80.9h9M0,282.1h-9M642,282.1h9M0,483.3h-9M642,483.3h9M0,684.6h-9M642,684.6h9" stroke="#4a4a4a" stroke-width="2.4" fill="none"/>
<text x="19.8" y="62.5" font-size="50" style="fill:#000">(b) Feb</text>
</g>
<g transform="translate(1522.8 25.3) scale(0.99953 1.00028)">
<g clip-path="url(#fr)"><rect x="0" y="0" width="642" height="725" fill="#e8e8e8"/><use href="#bg"/>
<g clip-path="url(#sea)"><g filter="url(#j2)"><rect x="-60" y="-60" width="762" height="845" fill="#2c2c2c"/>
<g filter="url(#bA)"><ellipse cx="577.4" cy="37.5" rx="58.4" ry="83.4" fill="#0e0e0e"/><path d="M537.8,125.1 608.6,125.1 604.5,187.6 541.9,195.9 479.4,250.1 454.4,233.5 529.4,150.1Z" fill="#444444"/><path d="M437.7,271.0 521.1,233.5 554.4,258.5 512.8,300.2 450.2,316.8Z" fill="#4d4d4d"/><path d="M458.6,316.8 521.1,316.8 512.8,416.9 458.6,416.9Z" fill="#434343"/><path d="M166.8,375.2 200.1,354.3 250.1,375.2 316.8,366.9 375.2,333.5 425.2,354.3 416.9,408.5 333.5,433.6 291.8,441.9 233.5,416.9 195.9,396.0Z" fill="#1d1d1d"/><path d="M125.1,454.4 187.6,450.2 250.1,479.4 316.8,471.1 375.2,441.9 437.7,408.5 475.2,416.9 462.7,458.6 416.9,491.9 354.3,533.6 291.8,537.8 233.5,512.8 175.1,529.4 125.1,546.1 95.9,558.6 62.5,541.9 25.0,516.9 41.7,487.7 104.2,458.6Z" fill="#5c5c5c"/><path d="M537.8,450.2 516.9,450.2 496.1,491.9 466.9,537.8 416.9,583.6 375.2,608.6 350.2,650.3 291.8,675.3 316.8,708.7 375.2,675.3 421.0,625.3 458.6,608.6 500.3,575.3 537.8,521.1Z" fill="#1d1d1d"/><path d="M187.6,558.6 312.7,554.4 325.2,592.0 271.0,625.3 200.1,617.0Z" fill="#474747"/></g>
<g filter="url(#bB)"><ellipse cx="571.1" cy="141.7" rx="29.2" ry="20.8" fill="#555555"/><ellipse cx="471.1" cy="287.6" rx="33.4" ry="14.6" fill="#5c5c5c" transform="rotate(-10 471.1 287.6)"/><ellipse cx="450.2" cy="429.4" rx="25.0" ry="20.8" fill="#5f5f5f"/><path d="M100.1,414.8 133.4,383.5 179.3,381.4 218.9,421.0 237.6,450.2 200.1,458.6 166.8,441.9 120.9,452.3Z" fill="#616161"/><path d="M14.6,491.9 70.9,464.8 137.6,466.9 143.8,512.8 104.2,527.3 83.4,554.4 43.8,541.9Z" fill="#7d7d7d"/><ellipse cx="271.0" cy="496.1" rx="18.8" ry="6.7" fill="#232323"/></g>
<g filter="url(#bC)"><ellipse cx="137.6" cy="412.7" rx="16.7" ry="9.2" fill="#747474" transform="rotate(-10 137.6 412.7)"/><ellipse cx="204.3" cy="433.6" rx="18.8" ry="14.6" fill="#777777" transform="rotate(40 204.3 433.6)"/><ellipse cx="62.5" cy="512.8" rx="31.3" ry="21.7" fill="#b0b0b0"/><ellipse cx="56.3" cy="506.5" rx="14.6" ry="11.3" fill="#e6e6e6"/><ellipse cx="125.1" cy="494.8" rx="16.7" ry="10.0" fill="#a4a4a4"/><ellipse cx="79.2" cy="537.8" rx="10.4" ry="10.4" fill="#9a9a9a"/><ellipse cx="366.9" cy="469.0" rx="25.0" ry="9.2" fill="#898989" transform="rotate(-20 366.9 469.0)"/><ellipse cx="329.3" cy="500.3" rx="18.8" ry="12.5" fill="#868686"/><ellipse cx="375.2" cy="464.8" rx="10.4" ry="4.2" fill="#9b9b9b" transform="rotate(-20 375.2 464.8)"/></g>
</g></g>
<use href="#fg"/></g>
<rect x="0" y="0" width="642" height="725" fill="none" stroke="#4a4a4a" stroke-width="3"/>
<path d="M120.4,0v-9M120.4,725v9M321.5,0v-9M321.5,725v9M522.6,0v-9M522.6,725v9M0,80.9h-9M642,80.9h9M0,282.1h-9M642,282.1h9M0,483.3h-9M642,483.3h9M0,684.6h-9M642,684.6h9" stroke="#4a4a4a" stroke-width="2.4" fill="none"/>
<text x="19.8" y="62.5" font-size="50" style="fill:#000">(c) Mar</text>
</g>
<g transform="translate(161.0 793.5) scale(0.99953 0.99959)">
<g clip-path="url(#fr)"><rect x="0" y="0" width="642" height="725" fill="#e8e8e8"/><use href="#bg"/>
<g clip-path="url(#sea)"><g filter="url(#j3)"><rect x="-60" y="-60" width="762" height="845" fill="#292929"/>
<g filter="url(#bA)"><ellipse cx="579.5" cy="25.0" rx="50.0" ry="50.0" fill="#1a1a1a"/><path d="M537.8,125.1 604.5,125.1 600.3,179.3 541.9,183.4Z" fill="#3b3b3b"/><path d="M396.0,287.6 458.6,262.6 521.1,271.0 512.8,304.3 437.7,316.8Z" fill="#434343"/><path d="M250.1,375.2 316.8,366.9 375.2,333.5 416.9,354.3 396.0,416.9 325.2,433.6 271.0,416.9Z" fill="#202020"/><path d="M537.8,450.2 516.9,450.2 458.6,479.4 396.0,500.3 354.3,521.1 291.8,541.9 266.8,525.3 233.5,541.9 291.8,583.6 350.2,650.3 291.8,675.3 316.8,708.7 375.2,675.3 421.0,625.3 458.6,608.6 500.3,575.3 537.8,521.1Z" fill="#1f1f1f"/><path d="M110.5,416.9 137.6,396.0 166.8,389.8 216.8,416.9 258.5,433.6 241.8,454.4 187.6,441.9 166.8,458.6 166.8,521.1 250.1,516.9 316.8,508.6 316.8,529.4 250.1,541.9 175.1,558.6 125.1,583.6 95.9,575.3 62.5,541.9 25.0,516.9 41.7,487.7 104.2,458.6Z" fill="#535353"/><path d="M233.5,479.4 291.8,466.9 354.3,458.6 396.0,441.9 458.6,416.9 475.2,437.7 450.2,471.1 375.2,500.3 316.8,512.8 258.5,500.3Z" fill="#4a4a4a"/><path d="M145.9,583.6 250.1,592.0 333.5,562.8 341.8,592.0 258.5,625.3 158.4,617.0Z" fill="#414141"/></g>
<g filter="url(#bB)"><ellipse cx="573.2" cy="143.8" rx="14.6" ry="12.5" fill="#474747"/><ellipse cx="450.2" cy="337.7" rx="25.0" ry="9.2" fill="#4d4d4d" transform="rotate(-5 450.2 337.7)"/><ellipse cx="258.5" cy="458.6" rx="22.9" ry="18.8" fill="#202020"/><ellipse cx="291.8" cy="531.5" rx="33.4" ry="14.6" fill="#1f1f1f"/><path d="M14.6,494.0 62.5,464.8 98.0,446.1 114.6,425.2 148.0,458.6 157.6,487.7 141.7,523.2 95.9,553.6 47.9,541.9Z" fill="#838383"/><ellipse cx="129.2" cy="412.7" rx="14.6" ry="16.7" fill="#717171"/><path d="M250.1,473.2 291.8,489.8 325.2,494.0 354.3,479.4 396.0,458.6 441.9,456.5 458.6,433.6" fill="none" stroke="#5f5f5f" stroke-width="17.5" stroke-linecap="round" stroke-linejoin="round"/><ellipse cx="193.8" cy="357.7" rx="8.3" ry="5.8" fill="#565656"/></g>
<g filter="url(#bC)"><path d="M109.2,431.5 141.7,458.6 145.9,487.7 118.8,513.6 83.4,531.5 52.1,528.6 33.4,502.3 62.5,471.1 93.8,450.2Z" fill="#9e9e9e"/><ellipse cx="54.2" cy="494.0" rx="12.5" ry="5.0" fill="#b8b8b8"/><ellipse cx="100.1" cy="496.9" rx="15.0" ry="5.4" fill="#b8b8b8" transform="rotate(-15 100.1 496.9)"/><ellipse cx="75.0" cy="506.5" rx="10.4" ry="4.2" fill="#b5b5b5" transform="rotate(-20 75.0 506.5)"/><ellipse cx="387.7" cy="460.6" rx="12.5" ry="5.8" fill="#777777" transform="rotate(-10 387.7 460.6)"/><ellipse cx="441.9" cy="456.5" rx="12.5" ry="5.8" fill="#777777" transform="rotate(-20 441.9 456.5)"/></g>
</g></g>
<use href="#fg"/></g>
<rect x="0" y="0" width="642" height="725" fill="none" stroke="#4a4a4a" stroke-width="3"/>
<path d="M120.4,0v-9M120.4,725v9M321.5,0v-9M321.5,725v9M522.6,0v-9M522.6,725v9M0,80.9h-9M642,80.9h9M0,282.1h-9M642,282.1h9M0,483.3h-9M642,483.3h9M0,684.6h-9M642,684.6h9" stroke="#4a4a4a" stroke-width="2.4" fill="none"/>
<text x="19.8" y="62.5" font-size="50" style="fill:#000">(d) Apr</text>
</g>
<text x="131.5" y="892.6" font-size="50" text-anchor="end">50°N</text>
<text x="131.5" y="1093.7" font-size="50" text-anchor="end">45°N</text>
<text x="131.5" y="1294.8" font-size="50" text-anchor="end">40°N</text>
<text x="131.5" y="1496.0" font-size="50" text-anchor="end">35°N</text>
<g transform="translate(840.3 793.5) scale(1.00421 0.99959)">
<g clip-path="url(#fr)"><rect x="0" y="0" width="642" height="725" fill="#e8e8e8"/><use href="#bg"/>
<g clip-path="url(#sea)"><g filter="url(#j4)"><rect x="-60" y="-60" width="762" height="845" fill="#373737"/>
<g filter="url(#bA)"><path d="M479.4,200.1 562.8,200.1 554.4,258.5 479.4,300.2 458.6,258.5Z" fill="#414141"/><path d="M112.6,412.7 137.6,396.0 175.1,391.9 195.9,416.9 233.5,433.6 262.6,450.2 225.1,475.2 187.6,462.7 183.4,500.3 166.8,529.4 125.1,554.4 83.4,567.0 62.5,541.9 22.9,506.5 41.7,487.7 104.2,454.4Z" fill="#5c5c5c"/><path d="M250.1,421.0 354.3,421.0 458.6,425.2 471.1,466.9 375.2,521.1 291.8,525.3 250.1,479.4Z" fill="#434343"/><ellipse cx="491.9" cy="408.5" rx="29.2" ry="50.0" fill="#232323"/><path d="M354.3,537.8 479.4,512.8 491.9,550.3 416.9,575.3 354.3,571.1Z" fill="#222222"/><ellipse cx="366.9" cy="375.2" rx="50.0" ry="20.8" fill="#262626"/><ellipse cx="137.6" cy="644.1" rx="29.2" ry="18.8" fill="#232323"/></g>
<g filter="url(#bB)"><ellipse cx="592.0" cy="12.5" rx="16.7" ry="14.6" fill="#5c5c5c"/><ellipse cx="554.4" cy="108.4" rx="18.8" ry="16.7" fill="#464646"/><ellipse cx="150.1" cy="429.4" rx="25.8" ry="20.8" fill="#777777"/><ellipse cx="83.4" cy="496.1" rx="37.5" ry="17.5" fill="#7d7d7d" transform="rotate(5 83.4 496.1)"/><ellipse cx="166.8" cy="500.3" rx="13.3" ry="18.8" fill="#7a7a7a"/><ellipse cx="237.6" cy="450.2" rx="25.0" ry="15.8" fill="#565656"/><ellipse cx="341.8" cy="500.3" rx="31.3" ry="14.6" fill="#595959" transform="rotate(-10 341.8 500.3)"/><ellipse cx="454.4" cy="452.3" rx="22.9" ry="12.5" fill="#595959"/><ellipse cx="137.6" cy="546.1" rx="16.7" ry="12.5" fill="#595959"/><ellipse cx="429.4" cy="600.3" rx="31.3" ry="12.5" fill="#535353" transform="rotate(-15 429.4 600.3)"/><ellipse cx="316.8" cy="479.4" rx="12.5" ry="12.5" fill="#232323"/></g>
<g filter="url(#bC)"><ellipse cx="85.5" cy="489.8" rx="25.0" ry="6.3" fill="#a4a4a4" transform="rotate(10 85.5 489.8)"/><ellipse cx="143.8" cy="439.8" rx="7.5" ry="5.8" fill="#929292"/><ellipse cx="164.7" cy="494.0" rx="5.0" ry="7.5" fill="#8c8c8c"/></g>
</g></g>
<use href="#fg"/></g>
<rect x="0" y="0" width="642" height="725" fill="none" stroke="#4a4a4a" stroke-width="3"/>
<path d="M120.4,0v-9M120.4,725v9M321.5,0v-9M321.5,725v9M522.6,0v-9M522.6,725v9M0,80.9h-9M642,80.9h9M0,282.1h-9M642,282.1h9M0,483.3h-9M642,483.3h9M0,684.6h-9M642,684.6h9" stroke="#4a4a4a" stroke-width="2.4" fill="none"/>
<text x="19.8" y="62.5" font-size="50" style="fill:#000">(e) May</text>
</g>
<g transform="translate(1522.8 793.5) scale(0.99953 0.99959)">
<g clip-path="url(#fr)"><rect x="0" y="0" width="642" height="725" fill="#e8e8e8"/><use href="#bg"/>
<g clip-path="url(#sea)"><g filter="url(#j5)"><rect x="-60" y="-60" width="762" height="845" fill="#555555"/>
<g filter="url(#bA)"><path d="M533.6,83.4 612.8,83.4 608.6,258.5 583.6,341.8 521.1,383.5 458.6,400.2 375.2,379.4 300.2,396.0 266.8,375.2 333.5,325.2 375.2,283.5 437.7,233.5 500.3,183.4 533.6,137.6Z" fill="#2b2b2b"/><path d="M541.9,62.5 608.6,62.5 604.5,137.6 537.8,137.6Z" fill="#4a4a4a"/><path d="M125.1,625.3 375.2,617.0 375.2,667.0 250.1,708.7 125.1,724.9 83.4,724.9Z" fill="#3b3b3b"/><path d="M83.4,687.8 208.4,687.8 166.8,724.9 0.0,724.9 0.0,708.7Z" fill="#2f2f2f"/><path d="M104.2,437.7 166.8,437.7 158.4,525.3 95.9,533.6Z" fill="#4c4c4c"/></g>
<g filter="url(#bB)"><ellipse cx="579.5" cy="37.5" rx="33.4" ry="45.9" fill="#5c5c5c"/><path d="M458.6,162.6 533.6,158.4 537.8,200.1 479.4,225.1Z" fill="#474747"/><ellipse cx="556.5" cy="291.8" rx="18.8" ry="33.4" fill="#444444"/><ellipse cx="396.0" cy="362.7" rx="41.7" ry="15.8" fill="#4a4a4a"/><ellipse cx="391.9" cy="300.2" rx="25.0" ry="20.8" fill="#1d1d1d"/><ellipse cx="500.3" cy="237.6" rx="29.2" ry="16.7" fill="#1f1f1f"/><ellipse cx="579.5" cy="154.2" rx="20.8" ry="16.7" fill="#1f1f1f"/><ellipse cx="187.6" cy="402.3" rx="18.8" ry="8.3" fill="#2f2f2f"/><ellipse cx="450.2" cy="425.2" rx="25.0" ry="11.7" fill="#323232"/><path d="M250.1,437.7 300.2,421.0 333.5,450.2 416.9,454.4 450.2,466.9 416.9,521.1 354.3,550.3 291.8,554.4 233.5,541.9 200.1,529.4 225.1,491.9 250.1,466.9Z" fill="#747474"/><path d="M112.6,412.7 141.7,387.7 179.3,366.9 208.4,366.9 216.8,391.9 166.8,400.2 125.1,425.2Z" fill="#6b6b6b"/><ellipse cx="35.4" cy="500.3" rx="18.8" ry="12.5" fill="#6e6e6e"/><ellipse cx="471.1" cy="541.9" rx="25.0" ry="18.8" fill="#6e6e6e"/><ellipse cx="166.8" cy="583.6" rx="29.2" ry="16.7" fill="#4a4a4a"/><ellipse cx="258.5" cy="617.0" rx="33.4" ry="14.6" fill="#4a4a4a"/></g>
<g filter="url(#bC)"><ellipse cx="583.6" cy="4.2" rx="5.8" ry="4.2" fill="#dddddd"/><ellipse cx="283.5" cy="491.9" rx="20.8" ry="11.7" fill="#959595" transform="rotate(-10 283.5 491.9)"/><ellipse cx="310.6" cy="494.8" rx="14.6" ry="5.8" fill="#8f8f8f"/><ellipse cx="275.1" cy="441.9" rx="12.5" ry="7.5" fill="#8c8c8c"/><ellipse cx="233.5" cy="500.3" rx="12.5" ry="5.8" fill="#898989"/><ellipse cx="193.8" cy="354.3" rx="4.2" ry="4.2" fill="#929292"/></g>
</g></g>
<use href="#fg"/></g>
<rect x="0" y="0" width="642" height="725" fill="none" stroke="#4a4a4a" stroke-width="3"/>
<path d="M120.4,0v-9M120.4,725v9M321.5,0v-9M321.5,725v9M522.6,0v-9M522.6,725v9M0,80.9h-9M642,80.9h9M0,282.1h-9M642,282.1h9M0,483.3h-9M642,483.3h9M0,684.6h-9M642,684.6h9" stroke="#4a4a4a" stroke-width="2.4" fill="none"/>
<text x="19.8" y="62.5" font-size="50" style="fill:#000">(f) Jun</text>
</g>
<g transform="translate(161.0 1561.4) scale(0.99953 1.00248)">
<g clip-path="url(#fr)"><rect x="0" y="0" width="642" height="725" fill="#e8e8e8"/><use href="#bg"/>
<g clip-path="url(#sea)"><g filter="url(#j6)"><rect x="-60" y="-60" width="762" height="845" fill="#5b5b5b"/>
<g filter="url(#bA)"><path d="M533.6,-8.3 617.0,-8.3 612.8,133.4 533.6,137.6Z" fill="#6e6e6e"/><ellipse cx="346.0" cy="383.5" rx="70.9" ry="45.9" fill="#3b3b3b"/><path d="M98.0,416.9 131.3,385.6 175.1,373.1 210.5,381.4 250.1,416.9 260.5,450.2 235.5,491.9 218.9,541.9 166.8,564.9 125.1,558.6 79.2,560.7 45.9,537.8 14.6,506.5 45.9,479.4 98.0,446.1Z" fill="#858585"/><path d="M250.1,458.6 375.2,450.2 383.5,533.6 291.8,550.3 233.5,521.1Z" fill="#686868"/><path d="M104.2,604.5 208.4,600.3 216.8,675.3 125.1,700.4 91.7,667.0Z" fill="#494949"/><ellipse cx="458.6" cy="521.1" rx="45.9" ry="50.0" fill="#474747"/><path d="M375.2,250.1 583.6,250.1 583.6,366.9 416.9,375.2Z" fill="#585858"/></g>
<g filter="url(#bB)"><ellipse cx="577.4" cy="173.0" rx="20.8" ry="20.8" fill="#838383"/><ellipse cx="475.2" cy="220.9" rx="20.8" ry="27.1" fill="#3a3a3a" transform="rotate(10 475.2 220.9)"/><ellipse cx="452.3" cy="250.1" rx="16.7" ry="12.5" fill="#3d3d3d"/><ellipse cx="479.4" cy="341.8" rx="35.4" ry="16.7" fill="#6d6d6d" transform="rotate(-10 479.4 341.8)"/><ellipse cx="358.5" cy="370.2" rx="22.9" ry="15.8" fill="#222222"/><ellipse cx="491.9" cy="391.9" rx="16.7" ry="27.1" fill="#434343"/><path d="M158.4,410.6 179.3,396.0 216.8,408.5 256.4,433.6 233.5,448.1 200.1,444.0 175.1,460.6 150.1,444.0Z" fill="#9b9b9b"/><ellipse cx="100.1" cy="479.4" rx="41.7" ry="18.8" fill="#9e9e9e" transform="rotate(-15 100.1 479.4)"/><ellipse cx="191.8" cy="530.3" rx="22.9" ry="11.7" fill="#8f8f8f" transform="rotate(20 191.8 530.3)"/><ellipse cx="95.9" cy="541.9" rx="18.8" ry="10.4" fill="#8c8c8c"/><ellipse cx="137.6" cy="460.6" rx="14.6" ry="10.4" fill="#8c8c8c"/><ellipse cx="325.2" cy="471.1" rx="18.8" ry="12.5" fill="#777777"/><ellipse cx="354.3" cy="521.1" rx="18.8" ry="12.5" fill="#747474"/><ellipse cx="225.1" cy="583.6" rx="25.0" ry="25.0" fill="#414141"/><ellipse cx="112.6" cy="658.7" rx="20.8" ry="27.1" fill="#3e3e3e"/><ellipse cx="412.7" cy="606.6" rx="14.6" ry="10.4" fill="#777777"/><ellipse cx="350.2" cy="662.0" rx="14.6" ry="7.5" fill="#7d7d7d"/><ellipse cx="437.7" cy="592.0" rx="20.8" ry="10.4" fill="#6e6e6e" transform="rotate(-30 437.7 592.0)"/><ellipse cx="41.7" cy="708.7" rx="58.4" ry="20.8" fill="#5f5f5f"/></g>
<g filter="url(#bC)"><ellipse cx="583.6" cy="3.3" rx="5.8" ry="4.2" fill="#dddddd"/><ellipse cx="607.0" cy="31.3" rx="4.2" ry="5.8" fill="#b0b0b0"/><ellipse cx="592.0" cy="183.4" rx="9.2" ry="11.7" fill="#959595"/><ellipse cx="87.5" cy="479.4" rx="22.9" ry="11.7" fill="#b9b9b9" transform="rotate(-20 87.5 479.4)"/><ellipse cx="179.3" cy="410.6" rx="9.2" ry="5.0" fill="#a6a6a6"/><ellipse cx="216.8" cy="425.2" rx="9.2" ry="5.0" fill="#a6a6a6" transform="rotate(20 216.8 425.2)"/></g>
</g></g>
<use href="#fg"/></g>
<rect x="0" y="0" width="642" height="725" fill="none" stroke="#4a4a4a" stroke-width="3"/>
<path d="M120.4,0v-9M120.4,725v9M321.5,0v-9M321.5,725v9M522.6,0v-9M522.6,725v9M0,80.9h-9M642,80.9h9M0,282.1h-9M642,282.1h9M0,483.3h-9M642,483.3h9M0,684.6h-9M642,684.6h9" stroke="#4a4a4a" stroke-width="2.4" fill="none"/>
<text x="19.8" y="62.5" font-size="50" style="fill:#000">(g) Jul</text>
</g>
<text x="131.5" y="1660.7" font-size="50" text-anchor="end">50°N</text>
<text x="131.5" y="1862.4" font-size="50" text-anchor="end">45°N</text>
<text x="131.5" y="2064.1" font-size="50" text-anchor="end">40°N</text>
<text x="131.5" y="2265.9" font-size="50" text-anchor="end">35°N</text>
<g transform="translate(840.3 1561.4) scale(1.00421 1.00248)">
<g clip-path="url(#fr)"><rect x="0" y="0" width="642" height="725" fill="#e8e8e8"/><use href="#bg"/>
<g clip-path="url(#sea)"><g filter="url(#j7)"><rect x="-60" y="-60" width="762" height="845" fill="#dddddd"/>
<g filter="url(#bA)"><path d="M529.4,-8.3 617.0,-8.3 612.8,175.1 596.1,266.8 592.0,341.8 541.9,366.9 512.8,333.5 458.6,333.5 396.0,350.2 325.2,358.5 333.5,316.8 396.0,266.8 466.9,195.9 533.6,125.1Z" fill="#a9a9a9"/><path d="M183.4,366.9 216.8,354.3 258.5,366.9 325.2,358.5 333.5,375.2 258.5,387.7 187.6,387.7Z" fill="#bfbfbf"/><path d="M541.9,458.6 508.6,462.7 487.7,500.3 454.4,537.8 404.4,567.0 366.9,592.0 333.5,625.3 266.8,642.0 225.1,675.3 316.8,708.7 375.2,675.3 421.0,625.3 458.6,608.6 500.3,575.3 537.8,521.1Z" fill="#aaaaaa"/><path d="M0.0,683.7 125.1,667.0 158.4,724.9 0.0,724.9Z" fill="#b5b5b5"/><path d="M116.7,400.2 175.1,391.9 216.8,416.9 220.9,500.3 175.1,525.3 125.1,491.9Z" fill="#c8c8c8"/><path d="M16.7,487.7 50.0,479.4 108.4,450.2 116.7,462.7 66.7,500.3 29.2,516.9Z" fill="#b0b0b0"/></g>
<g filter="url(#bB)"><path d="M233.5,396.0 271.0,377.3 333.5,377.3 383.5,389.8 416.9,400.2 439.8,416.9 416.9,452.3 375.2,444.0 333.5,439.8 291.8,435.6 258.5,416.9Z" fill="#ffffff"/><ellipse cx="416.9" cy="458.6" rx="45.9" ry="14.6" fill="#f2f2f2"/><path d="M187.6,521.1 233.5,508.6 266.8,487.7 321.0,479.4 291.8,521.1 258.5,541.9 233.5,583.6 208.4,592.0 187.6,562.8Z" fill="#fafafa"/><ellipse cx="175.1" cy="642.0" rx="39.6" ry="18.8" fill="#f4f4f4" transform="rotate(-30 175.1 642.0)"/><ellipse cx="75.0" cy="512.8" rx="14.6" ry="11.7" fill="#fbfbfb"/><ellipse cx="148.0" cy="541.9" rx="16.7" ry="12.5" fill="#f8f8f8"/><ellipse cx="560.7" cy="275.1" rx="18.8" ry="50.0" fill="#929292" transform="rotate(5 560.7 275.1)"/><path d="M12.5,491.9 50.0,475.2 108.4,446.1 104.2,416.9 137.6,387.7 175.1,375.2 195.9,358.5 216.8,354.3 225.1,375.2 187.6,396.0 145.9,412.7 125.1,450.2 75.0,491.9 25.0,516.9Z" fill="#b9b9b9"/><ellipse cx="579.5" cy="41.7" rx="25.0" ry="37.5" fill="#929292"/><ellipse cx="333.5" cy="656.6" rx="45.9" ry="14.6" fill="#929292" transform="rotate(-5 333.5 656.6)"/><ellipse cx="521.1" cy="441.9" rx="16.7" ry="16.7" fill="#d6d6d6"/><ellipse cx="458.6" cy="291.8" rx="50.0" ry="16.7" fill="#cbcbcb" transform="rotate(-35 458.6 291.8)"/><ellipse cx="575.3" cy="166.8" rx="25.0" ry="12.5" fill="#cbcbcb"/></g>
<g filter="url(#bC)"><ellipse cx="583.6" cy="29.2" rx="12.5" ry="7.5" fill="#868686"/><ellipse cx="577.4" cy="60.4" rx="10.8" ry="6.7" fill="#898989"/><ellipse cx="538.6" cy="143.8" rx="5.8" ry="8.3" fill="#8f8f8f"/><ellipse cx="491.9" cy="183.4" rx="6.7" ry="8.3" fill="#929292" transform="rotate(30 491.9 183.4)"/><ellipse cx="558.6" cy="255.1" rx="6.7" ry="10.0" fill="#888888"/><ellipse cx="576.1" cy="308.5" rx="5.0" ry="7.5" fill="#898989"/><ellipse cx="353.5" cy="655.3" rx="10.0" ry="6.7" fill="#808080" transform="rotate(-30 353.5 655.3)"/><ellipse cx="306.4" cy="653.7" rx="10.8" ry="5.0" fill="#8c8c8c"/><ellipse cx="20.8" cy="704.5" rx="14.2" ry="6.7" fill="#8f8f8f" transform="rotate(-20 20.8 704.5)"/><ellipse cx="164.7" cy="704.5" rx="4.2" ry="3.3" fill="#838383"/><ellipse cx="137.6" cy="416.9" rx="12.5" ry="9.2" fill="#adadad"/><ellipse cx="200.1" cy="491.9" rx="12.5" ry="10.4" fill="#b0b0b0"/><ellipse cx="166.8" cy="441.9" rx="10.4" ry="8.3" fill="#b0b0b0"/></g>
</g></g>
<use href="#fg"/></g>
<rect x="0" y="0" width="642" height="725" fill="none" stroke="#4a4a4a" stroke-width="3"/>
<path d="M120.4,0v-9M120.4,725v9M321.5,0v-9M321.5,725v9M522.6,0v-9M522.6,725v9M0,80.9h-9M642,80.9h9M0,282.1h-9M642,282.1h9M0,483.3h-9M642,483.3h9M0,684.6h-9M642,684.6h9" stroke="#4a4a4a" stroke-width="2.4" fill="none"/>
<text x="19.8" y="62.5" font-size="50" style="fill:#000">(h) Aug</text>
</g>
<g transform="translate(1522.8 1561.4) scale(0.99953 1.00248)">
<g clip-path="url(#fr)"><rect x="0" y="0" width="642" height="725" fill="#e8e8e8"/><use href="#bg"/>
<g clip-path="url(#sea)"><g filter="url(#j8)"><rect x="-60" y="-60" width="762" height="845" fill="#4a4a4a"/>
<g filter="url(#bA)"><path d="M667.0,-20.8 521.1,-20.8 537.8,125.1 479.4,195.9 416.9,258.5 358.5,316.8 316.8,416.9 266.8,521.1 237.6,617.0 208.4,708.7 291.8,750.4 667.0,750.4Z" fill="#797979"/><path d="M437.7,200.1 500.3,166.8 525.3,200.1 458.6,275.1 408.5,275.1Z" fill="#5c5c5c"/><path d="M325.2,541.9 437.7,533.6 437.7,592.0 333.5,600.3Z" fill="#646464"/></g>
<g filter="url(#bB)"><path d="M583.6,16.7 617.0,16.7 612.8,216.8 583.6,216.8Z" fill="#9e9e9e"/><path d="M479.4,271.0 535.7,266.8 514.8,333.5 494.0,396.0 469.0,441.9 437.7,473.2 393.9,460.6 381.4,416.9 435.6,354.3 458.6,312.7Z" fill="#a1a1a1"/><ellipse cx="550.3" cy="208.4" rx="20.8" ry="25.0" fill="#8f8f8f"/><ellipse cx="416.9" cy="354.3" rx="16.7" ry="16.7" fill="#8c8c8c"/><ellipse cx="129.2" cy="433.6" rx="27.1" ry="27.1" fill="#323232"/><ellipse cx="266.8" cy="416.9" rx="16.7" ry="20.8" fill="#353535"/><ellipse cx="250.1" cy="475.2" rx="18.8" ry="14.6" fill="#373737"/><ellipse cx="154.2" cy="535.7" rx="39.6" ry="20.8" fill="#2f2f2f" transform="rotate(15 154.2 535.7)"/><ellipse cx="179.3" cy="583.6" rx="25.0" ry="16.7" fill="#353535"/><ellipse cx="37.5" cy="514.8" rx="16.7" ry="10.4" fill="#323232"/><ellipse cx="104.2" cy="652.4" rx="20.8" ry="25.0" fill="#353535"/><ellipse cx="83.4" cy="700.4" rx="25.0" ry="16.7" fill="#353535"/><ellipse cx="62.5" cy="496.1" rx="29.2" ry="11.7" fill="#5b5b5b"/><ellipse cx="118.8" cy="516.9" rx="16.7" ry="12.5" fill="#595959"/><ellipse cx="208.4" cy="387.7" rx="25.0" ry="15.8" fill="#656565"/><ellipse cx="200.1" cy="487.7" rx="18.8" ry="14.6" fill="#565656"/><ellipse cx="425.2" cy="260.5" rx="12.5" ry="9.2" fill="#474747"/><ellipse cx="304.3" cy="533.6" rx="14.6" ry="12.5" fill="#8c8c8c"/><ellipse cx="300.2" cy="621.1" rx="20.8" ry="9.2" fill="#8c8c8c"/><ellipse cx="250.1" cy="579.5" rx="12.5" ry="10.4" fill="#868686"/></g>
<g filter="url(#bC)"><ellipse cx="583.6" cy="14.6" rx="20.8" ry="15.8" fill="#b9b9b9"/><ellipse cx="600.3" cy="58.4" rx="7.5" ry="12.5" fill="#b6b6b6"/><ellipse cx="475.2" cy="329.3" rx="20.8" ry="6.3" fill="#b6b6b6" transform="rotate(-35 475.2 329.3)"/><ellipse cx="467.7" cy="412.7" rx="10.8" ry="25.0" fill="#b6b6b6" transform="rotate(20 467.7 412.7)"/><ellipse cx="412.7" cy="450.2" rx="18.8" ry="7.5" fill="#b9b9b9" transform="rotate(10 412.7 450.2)"/></g>
</g></g>
<use href="#fg"/></g>
<rect x="0" y="0" width="642" height="725" fill="none" stroke="#4a4a4a" stroke-width="3"/>
<path d="M120.4,0v-9M120.4,725v9M321.5,0v-9M321.5,725v9M522.6,0v-9M522.6,725v9M0,80.9h-9M642,80.9h9M0,282.1h-9M642,282.1h9M0,483.3h-9M642,483.3h9M0,684.6h-9M642,684.6h9" stroke="#4a4a4a" stroke-width="2.4" fill="none"/>
<text x="19.8" y="62.5" font-size="50" style="fill:#000">(i) Sep</text>
</g>
<g transform="translate(161.0 2332.5) scale(0.99953 0.99876)">
<g clip-path="url(#fr)"><rect x="0" y="0" width="642" height="725" fill="#e8e8e8"/><use href="#bg"/>
<g clip-path="url(#sea)"><g filter="url(#j9)"><rect x="-60" y="-60" width="762" height="845" fill="#4d4d4d"/>
<g filter="url(#bA)"><path d="M533.6,-8.3 617.0,-8.3 608.6,166.8 537.8,175.1Z" fill="#565656"/><ellipse cx="391.9" cy="400.2" rx="79.2" ry="47.9" fill="#383838" transform="rotate(-10 391.9 400.2)"/><ellipse cx="291.8" cy="629.5" rx="91.7" ry="33.4" fill="#343434" transform="rotate(-5 291.8 629.5)"/><ellipse cx="166.8" cy="541.9" rx="45.9" ry="25.0" fill="#3a3a3a"/><path d="M83.4,546.1 145.9,500.3 208.4,479.4 291.8,454.4 300.2,479.4 216.8,508.6 158.4,533.6 104.2,583.6Z" fill="#595959"/><path d="M271.0,537.8 354.3,506.5 416.9,496.1 437.7,450.2 466.9,433.6 479.4,458.6 441.9,516.9 366.9,537.8 283.5,562.8Z" fill="#595959"/></g>
<g filter="url(#bB)"><path d="M541.9,175.1 479.4,216.8 416.9,271.0 354.3,316.8 291.8,366.9 233.5,400.2 183.4,396.0" fill="none" stroke="#686868" stroke-width="31.3" stroke-linecap="round" stroke-linejoin="round"/><path d="M504.4,266.8 479.4,300.2 458.6,325.2 416.9,354.3" fill="none" stroke="#6b6b6b" stroke-width="25.0" stroke-linecap="round" stroke-linejoin="round"/><path d="M37.5,491.9 104.2,473.2 166.8,458.6" fill="none" stroke="#686868" stroke-width="25.0" stroke-linecap="round" stroke-linejoin="round"/><path d="M587.8,33.4 612.8,33.4 608.6,150.1 587.8,150.1Z" fill="#6a6a6a"/><ellipse cx="400.2" cy="391.9" rx="29.2" ry="18.8" fill="#313131"/><ellipse cx="529.4" cy="321.0" rx="25.0" ry="25.0" fill="#3a3a3a"/><ellipse cx="541.9" cy="271.0" rx="18.8" ry="18.8" fill="#3d3d3d"/><ellipse cx="521.1" cy="233.5" rx="20.8" ry="14.6" fill="#3e3e3e"/><ellipse cx="250.1" cy="454.4" rx="20.8" ry="12.5" fill="#383838"/><ellipse cx="354.3" cy="562.8" rx="33.4" ry="29.2" fill="#383838"/><ellipse cx="483.6" cy="508.6" rx="22.9" ry="29.2" fill="#3a3a3a"/><ellipse cx="125.1" cy="416.9" rx="20.8" ry="25.0" fill="#3d3d3d"/><ellipse cx="446.1" cy="454.4" rx="25.0" ry="11.7" fill="#6d6d6d" transform="rotate(-40 446.1 454.4)"/><ellipse cx="187.6" cy="592.0" rx="20.8" ry="14.6" fill="#505050"/><ellipse cx="258.5" cy="554.4" rx="18.8" ry="12.5" fill="#565656"/><ellipse cx="416.9" cy="583.6" rx="29.2" ry="14.6" fill="#4c4c4c" transform="rotate(-20 416.9 583.6)"/></g>
<g filter="url(#bC)"><ellipse cx="598.2" cy="89.6" rx="5.8" ry="10.4" fill="#8c8c8c"/><ellipse cx="358.5" cy="310.6" rx="12.5" ry="5.8" fill="#808080" transform="rotate(-35 358.5 310.6)"/><ellipse cx="396.0" cy="325.2" rx="12.5" ry="5.8" fill="#7d7d7d" transform="rotate(-30 396.0 325.2)"/><ellipse cx="237.6" cy="406.5" rx="16.7" ry="7.5" fill="#929292" transform="rotate(-10 237.6 406.5)"/><ellipse cx="195.9" cy="396.0" rx="9.2" ry="5.8" fill="#838383"/><ellipse cx="458.6" cy="323.1" rx="11.7" ry="5.4" fill="#8c8c8c" transform="rotate(-30 458.6 323.1)"/><ellipse cx="487.7" cy="283.5" rx="9.2" ry="12.5" fill="#7a7a7a" transform="rotate(30 487.7 283.5)"/><ellipse cx="95.9" cy="479.4" rx="16.7" ry="8.3" fill="#7d7d7d" transform="rotate(-10 95.9 479.4)"/><ellipse cx="106.3" cy="510.7" rx="17.5" ry="10.8" fill="#929292" transform="rotate(-40 106.3 510.7)"/><ellipse cx="89.6" cy="540.7" rx="10.4" ry="7.1" fill="#8f8f8f" transform="rotate(-30 89.6 540.7)"/><ellipse cx="145.9" cy="494.0" rx="6.7" ry="4.2" fill="#898989" transform="rotate(-20 145.9 494.0)"/></g>
</g></g>
<use href="#fg"/></g>
<rect x="0" y="0" width="642" height="725" fill="none" stroke="#4a4a4a" stroke-width="3"/>
<path d="M120.4,0v-9M120.4,725v9M321.5,0v-9M321.5,725v9M522.6,0v-9M522.6,725v9M0,80.9h-9M642,80.9h9M0,282.1h-9M642,282.1h9M0,483.3h-9M642,483.3h9M0,684.6h-9M642,684.6h9" stroke="#4a4a4a" stroke-width="2.4" fill="none"/>
<text x="19.8" y="62.5" font-size="50" style="fill:#000">(j) Oct</text>
</g>
<text x="131.5" y="2431.5" font-size="50" text-anchor="end">50°N</text>
<text x="131.5" y="2632.4" font-size="50" text-anchor="end">45°N</text>
<text x="131.5" y="2833.4" font-size="50" text-anchor="end">40°N</text>
<text x="131.5" y="3034.5" font-size="50" text-anchor="end">35°N</text>
<text x="282.3" y="3131.6" font-size="50" text-anchor="middle">130°E</text>
<text x="483.3" y="3131.6" font-size="50" text-anchor="middle">135°E</text>
<text x="684.4" y="3131.6" font-size="50" text-anchor="middle">140°E</text>
<g transform="translate(840.3 2332.5) scale(1.00421 0.99876)">
<g clip-path="url(#fr)"><rect x="0" y="0" width="642" height="725" fill="#e8e8e8"/><use href="#bg"/>
<g clip-path="url(#sea)"><g filter="url(#j10)"><rect x="-60" y="-60" width="762" height="845" fill="#383838"/>
<g filter="url(#bA)"><ellipse cx="583.6" cy="16.7" rx="45.9" ry="41.7" fill="#222222"/><path d="M537.8,66.7 608.6,66.7 604.5,208.4 537.8,216.8Z" fill="#4a4a4a"/><path d="M433.6,200.1 500.3,166.8 533.6,216.8 491.9,258.5 441.9,258.5Z" fill="#262626"/><path d="M541.9,250.1 600.3,250.1 592.0,341.8 575.3,358.5 537.8,358.5Z" fill="#232323"/><path d="M541.9,233.5 500.3,271.0 437.7,291.8 375.2,333.5 325.2,375.2 366.9,387.7 437.7,354.3 500.3,325.2 550.3,266.8Z" fill="#595959"/><path d="M137.6,437.7 216.8,425.2 291.8,441.9 375.2,433.6 416.9,408.5 491.9,404.4 504.4,458.6 458.6,485.7 396.0,494.0 375.2,533.6 325.2,550.3 266.8,521.1 216.8,537.8 166.8,541.9 125.1,556.5 108.4,592.0 83.4,575.3 54.2,537.8 25.0,512.8 41.7,487.7Z" fill="#5c5c5c"/><path d="M541.9,450.2 512.8,458.6 496.1,500.3 458.6,537.8 408.5,567.0 375.2,583.6 291.8,583.6 233.5,604.5 233.5,667.0 316.8,708.7 375.2,675.3 421.0,625.3 458.6,608.6 500.3,575.3 537.8,521.1Z" fill="#222222"/></g>
<g filter="url(#bB)"><ellipse cx="587.8" cy="108.4" rx="12.5" ry="27.1" fill="#656565"/><ellipse cx="433.6" cy="318.9" rx="41.7" ry="18.8" fill="#7d7d7d" transform="rotate(-15 433.6 318.9)"/><ellipse cx="458.6" cy="439.8" rx="27.1" ry="31.3" fill="#7d7d7d" transform="rotate(10 458.6 439.8)"/><ellipse cx="193.8" cy="402.3" rx="29.2" ry="20.8" fill="#7d7d7d" transform="rotate(20 193.8 402.3)"/><path d="M29.2,487.7 104.2,448.1 137.6,462.7 177.2,448.1 168.8,491.9 125.1,516.1 83.4,560.7 45.9,539.9Z" fill="#808080"/><ellipse cx="225.1" cy="458.6" rx="20.8" ry="8.3" fill="#747474"/><ellipse cx="200.1" cy="525.3" rx="16.7" ry="16.7" fill="#717171"/><ellipse cx="150.1" cy="416.9" rx="16.7" ry="12.5" fill="#2c2c2c"/><ellipse cx="333.5" cy="404.4" rx="20.8" ry="16.7" fill="#2c2c2c"/><ellipse cx="391.9" cy="391.9" rx="16.7" ry="12.5" fill="#2f2f2f"/><ellipse cx="258.5" cy="538.6" rx="33.4" ry="15.8" fill="#2b2b2b"/><ellipse cx="416.9" cy="483.6" rx="22.9" ry="11.7" fill="#2e2e2e"/><ellipse cx="308.5" cy="496.1" rx="16.7" ry="10.4" fill="#323232"/><ellipse cx="175.1" cy="642.0" rx="25.0" ry="20.8" fill="#4d4d4d"/><ellipse cx="125.1" cy="600.3" rx="18.8" ry="18.8" fill="#4d4d4d"/><ellipse cx="271.0" cy="604.5" rx="25.0" ry="14.6" fill="#474747"/></g>
<g filter="url(#bC)"><ellipse cx="431.5" cy="317.7" rx="24.2" ry="11.3" fill="#a4a4a4" transform="rotate(-12 431.5 317.7)"/><ellipse cx="435.6" cy="316.0" rx="13.8" ry="6.3" fill="#c2c2c2" transform="rotate(-10 435.6 316.0)"/><ellipse cx="458.6" cy="439.8" rx="15.0" ry="21.7" fill="#a4a4a4" transform="rotate(10 458.6 439.8)"/><ellipse cx="458.6" cy="441.9" rx="8.3" ry="15.0" fill="#bfbfbf" transform="rotate(10 458.6 441.9)"/><ellipse cx="192.6" cy="402.3" rx="18.8" ry="11.7" fill="#a1a1a1" transform="rotate(30 192.6 402.3)"/><ellipse cx="195.9" cy="402.3" rx="12.5" ry="5.8" fill="#b9b9b9" transform="rotate(30 195.9 402.3)"/><path d="M54.2,500.3 83.4,487.7 109.2,478.6 113.4,500.3 92.5,526.1 75.9,546.9 62.5,526.1Z" fill="#a4a4a4"/><ellipse cx="89.6" cy="507.3" rx="22.9" ry="7.1" fill="#c2c2c2" transform="rotate(-38 89.6 507.3)"/><ellipse cx="154.2" cy="462.7" rx="9.2" ry="15.8" fill="#929292" transform="rotate(20 154.2 462.7)"/><ellipse cx="133.4" cy="487.7" rx="9.2" ry="6.7" fill="#929292"/></g>
</g></g>
<use href="#fg"/></g>
<rect x="0" y="0" width="642" height="725" fill="none" stroke="#4a4a4a" stroke-width="3"/>
<path d="M120.4,0v-9M120.4,725v9M321.5,0v-9M321.5,725v9M522.6,0v-9M522.6,725v9M0,80.9h-9M642,80.9h9M0,282.1h-9M642,282.1h9M0,483.3h-9M642,483.3h9M0,684.6h-9M642,684.6h9" stroke="#4a4a4a" stroke-width="2.4" fill="none"/>
<text x="19.8" y="62.5" font-size="50" style="fill:#000">(k) Nov</text>
</g>
<text x="962.2" y="3131.6" font-size="50" text-anchor="middle">130°E</text>
<text x="1164.2" y="3131.6" font-size="50" text-anchor="middle">135°E</text>
<text x="1366.1" y="3131.6" font-size="50" text-anchor="middle">140°E</text>
<g transform="translate(1522.8 2332.5) scale(0.99953 0.99876)">
<g clip-path="url(#fr)"><rect x="0" y="0" width="642" height="725" fill="#e8e8e8"/><use href="#bg"/>
<g clip-path="url(#sea)"><g filter="url(#j11)"><rect x="-60" y="-60" width="762" height="845" fill="#343434"/>
<g filter="url(#bA)"><ellipse cx="577.4" cy="45.9" rx="45.9" ry="45.9" fill="#1f1f1f"/><path d="M537.8,95.9 608.6,95.9 604.5,233.5 541.9,241.8 521.1,200.1Z" fill="#535353"/><path d="M433.6,200.1 500.3,166.8 529.4,216.8 491.9,258.5 441.9,258.5Z" fill="#252525"/><path d="M541.9,271.0 600.3,271.0 592.0,341.8 575.3,358.5 537.8,358.5Z" fill="#262626"/><path d="M416.9,283.5 479.4,264.7 514.8,291.8 458.6,333.5 408.5,362.7 433.6,387.7 396.0,400.2 362.7,383.5 375.2,333.5Z" fill="#5c5c5c"/><path d="M195.9,375.2 250.1,368.9 325.2,364.8 375.2,393.9 437.7,414.8 427.3,448.1 375.2,441.9 316.8,431.5 271.0,414.8 216.8,398.1Z" fill="#1f1f1f"/><path d="M25.0,491.9 108.4,416.9 141.7,387.7 183.4,400.2 216.8,433.6 291.8,446.1 375.2,441.9 437.7,433.6 458.6,387.7 496.1,396.0 500.3,450.2 458.6,483.6 408.5,500.3 396.0,541.9 333.5,550.3 271.0,525.3 200.1,554.4 137.6,592.0 100.1,617.0 83.4,575.3 54.2,541.9 16.7,512.8Z" fill="#5e5e5e"/><path d="M125.1,592.0 250.1,554.4 366.9,558.6 375.2,608.6 291.8,650.3 175.1,675.3 108.4,650.3Z" fill="#494949"/><path d="M537.8,450.2 516.9,450.2 496.1,491.9 466.9,537.8 416.9,583.6 375.2,608.6 350.2,650.3 291.8,675.3 316.8,708.7 375.2,675.3 421.0,625.3 458.6,608.6 500.3,575.3 537.8,521.1Z" fill="#1d1d1d"/></g>
<g filter="url(#bB)"><ellipse cx="582.8" cy="145.9" rx="13.3" ry="33.4" fill="#6d6d6d"/><ellipse cx="450.2" cy="302.2" rx="37.5" ry="15.8" fill="#7d7d7d" transform="rotate(-25 450.2 302.2)"/><path d="M225.1,444.0 266.8,458.6 312.7,475.2 375.2,462.7 437.7,454.4 469.0,431.5 471.1,406.5" fill="none" stroke="#7d7d7d" stroke-width="24.2" stroke-linecap="round" stroke-linejoin="round"/><path d="M29.2,498.2 75.0,462.7 104.2,446.1 154.2,431.5 185.5,404.4 211.8,433.6 187.6,471.9 158.4,507.8 145.9,541.9 95.9,551.1 52.1,541.9Z" fill="#8c8c8c"/><ellipse cx="216.8" cy="496.1" rx="31.3" ry="20.8" fill="#8c8c8c"/><ellipse cx="354.3" cy="504.4" rx="22.9" ry="18.8" fill="#747474"/><ellipse cx="250.1" cy="556.5" rx="22.9" ry="14.6" fill="#353535"/><ellipse cx="175.1" cy="577.4" rx="18.8" ry="12.5" fill="#383838"/><path d="M70.9,546.1 91.7,583.6 98.0,612.8" fill="none" stroke="#646464" stroke-width="16.7" stroke-linecap="round" stroke-linejoin="round"/></g>
<g filter="url(#bC)"><ellipse cx="583.6" cy="5.0" rx="7.5" ry="4.2" fill="#5e5e5e"/><path d="M148.0,395.2 173.0,393.1 192.6,406.5 200.1,421.9" fill="none" stroke="#c8c8c8" stroke-width="7.1" stroke-linecap="round" stroke-linejoin="round"/><path d="M54.2,502.3 83.4,481.5 125.1,460.6 158.4,442.7 183.4,419.0 199.3,434.4 179.3,466.9 150.9,500.3 138.4,528.6 96.7,536.9 63.4,528.6Z" fill="#a4a4a4"/><ellipse cx="120.9" cy="498.2" rx="22.9" ry="20.8" fill="#bfbfbf" transform="rotate(20 120.9 498.2)"/><ellipse cx="120.9" cy="499.0" rx="10.0" ry="15.0" fill="#e3e3e3" transform="rotate(20 120.9 499.0)"/><ellipse cx="216.8" cy="488.6" rx="22.9" ry="13.3" fill="#a4a4a4"/><ellipse cx="216.8" cy="491.9" rx="7.5" ry="5.0" fill="#b9b9b9"/><ellipse cx="208.4" cy="510.7" rx="10.4" ry="6.7" fill="#9e9e9e"/><ellipse cx="266.8" cy="456.9" rx="10.4" ry="5.4" fill="#adadad" transform="rotate(10 266.8 456.9)"/><ellipse cx="246.0" cy="448.1" rx="12.5" ry="6.3" fill="#959595" transform="rotate(20 246.0 448.1)"/><ellipse cx="300.2" cy="479.4" rx="14.6" ry="5.8" fill="#929292"/><ellipse cx="371.0" cy="460.6" rx="12.5" ry="6.7" fill="#959595"/><ellipse cx="462.7" cy="437.7" rx="11.7" ry="7.5" fill="#929292" transform="rotate(-30 462.7 437.7)"/><ellipse cx="454.4" cy="416.9" rx="9.2" ry="6.7" fill="#8f8f8f"/><ellipse cx="452.3" cy="296.0" rx="15.0" ry="5.8" fill="#a1a1a1" transform="rotate(-20 452.3 296.0)"/></g>
</g></g>
<use href="#fg"/></g>
<rect x="0" y="0" width="642" height="725" fill="none" stroke="#4a4a4a" stroke-width="3"/>
<path d="M120.4,0v-9M120.4,725v9M321.5,0v-9M321.5,725v9M522.6,0v-9M522.6,725v9M0,80.9h-9M642,80.9h9M0,282.1h-9M642,282.1h9M0,483.3h-9M642,483.3h9M0,684.6h-9M642,684.6h9" stroke="#4a4a4a" stroke-width="2.4" fill="none"/>
<text x="19.8" y="62.5" font-size="50" style="fill:#000">(l) Dec</text>
</g>
<text x="1644.1" y="3131.6" font-size="50" text-anchor="middle">130°E</text>
<text x="1845.1" y="3131.6" font-size="50" text-anchor="middle">135°E</text>
<text x="2046.2" y="3131.6" font-size="50" text-anchor="middle">140°E</text>
<g>
<path d="M356.8,3172.0L305.5,3201.7L356.8,3231.3Z" fill="#000091"/>
<path d="M1968.6,3172.0L2020.0,3201.7L1968.6,3231.3Z" fill="#990000"/>
<rect x="355.80" y="3172.0" width="51.03" height="59.3" fill="#000091"/>
<rect x="406.23" y="3172.0" width="51.03" height="59.3" fill="#0000b4"/>
<rect x="456.66" y="3172.0" width="51.03" height="59.3" fill="#0000d7"/>
<rect x="507.09" y="3172.0" width="51.03" height="59.3" fill="#0000f5"/>
<rect x="557.52" y="3172.0" width="51.03" height="59.3" fill="#0005ff"/>
<rect x="607.96" y="3172.0" width="51.03" height="59.3" fill="#0028ff"/>
<rect x="658.39" y="3172.0" width="51.03" height="59.3" fill="#0050ff"/>
<rect x="708.82" y="3172.0" width="51.03" height="59.3" fill="#0070ff"/>
<rect x="759.25" y="3172.0" width="51.03" height="59.3" fill="#0092ff"/>
<rect x="809.68" y="3172.0" width="51.03" height="59.3" fill="#00b4ff"/>
<rect x="860.11" y="3172.0" width="51.03" height="59.3" fill="#00d7ff"/>
<rect x="910.54" y="3172.0" width="51.03" height="59.3" fill="#00faff"/>
<rect x="960.97" y="3172.0" width="51.03" height="59.3" fill="#00ffe6"/>
<rect x="1011.41" y="3172.0" width="51.03" height="59.3" fill="#00ffc3"/>
<rect x="1061.84" y="3172.0" width="51.03" height="59.3" fill="#00ffa0"/>
<rect x="1112.27" y="3172.0" width="51.03" height="59.3" fill="#00ff7d"/>
<rect x="1162.70" y="3172.0" width="51.03" height="59.3" fill="#37ff55"/>
<rect x="1213.13" y="3172.0" width="51.03" height="59.3" fill="#96ff23"/>
<rect x="1263.56" y="3172.0" width="51.03" height="59.3" fill="#c8ff00"/>
<rect x="1313.99" y="3172.0" width="51.03" height="59.3" fill="#faff00"/>
<rect x="1364.42" y="3172.0" width="51.03" height="59.3" fill="#ffe400"/>
<rect x="1414.86" y="3172.0" width="51.03" height="59.3" fill="#ffc300"/>
<rect x="1465.29" y="3172.0" width="51.03" height="59.3" fill="#ffa000"/>
<rect x="1515.72" y="3172.0" width="51.03" height="59.3" fill="#ff8000"/>
<rect x="1566.15" y="3172.0" width="51.03" height="59.3" fill="#ff5f00"/>
<rect x="1616.58" y="3172.0" width="51.03" height="59.3" fill="#ff3c00"/>
<rect x="1667.01" y="3172.0" width="51.03" height="59.3" fill="#ff1c00"/>
<rect x="1717.44" y="3172.0" width="51.03" height="59.3" fill="#ff0000"/>
<rect x="1767.88" y="3172.0" width="51.03" height="59.3" fill="#ff0000"/>
<rect x="1818.31" y="3172.0" width="51.03" height="59.3" fill="#e10000"/>
<rect x="1868.74" y="3172.0" width="51.03" height="59.3" fill="#be0000"/>
<rect x="1919.17" y="3172.0" width="51.03" height="59.3" fill="#990000"/>
<path d="M355.8,3172.0L1969.6,3172.0L2020.0,3201.7L1969.6,3231.3L355.8,3231.3L305.5,3201.7Z" fill="none" stroke="#222" stroke-width="1.6" stroke-linejoin="miter"/>
<path d="M355.8,3231.3v-15" stroke="#222" stroke-width="2"/>
<text x="355.8" y="3296" font-size="50" text-anchor="middle" style="fill:#000">0</text>
<path d="M759.2,3231.3v-15" stroke="#222" stroke-width="2"/>
<text x="759.2" y="3296" font-size="50" text-anchor="middle" style="fill:#000">4</text>
<path d="M1162.7,3231.3v-15" stroke="#222" stroke-width="2"/>
<text x="1162.7" y="3296" font-size="50" text-anchor="middle" style="fill:#000">8</text>
<path d="M1566.1,3231.3v-15" stroke="#222" stroke-width="2"/>
<text x="1566.1" y="3296" font-size="50" text-anchor="middle" style="fill:#000">12</text>
<path d="M1969.6,3231.3v-15" stroke="#222" stroke-width="2"/>
<text x="1969.6" y="3296" font-size="50" text-anchor="middle" style="fill:#000">16</text>
<text x="1164.5" y="3359.8" font-size="51" text-anchor="middle" style="fill:#000">Average MHWI<tspan font-size="33" dy="9">m</tspan><tspan dy="-9"> (</tspan><tspan font-size="33" dy="-14">o</tspan><tspan dy="14">C days)</tspan></text>
</g>
</svg></body></html>
